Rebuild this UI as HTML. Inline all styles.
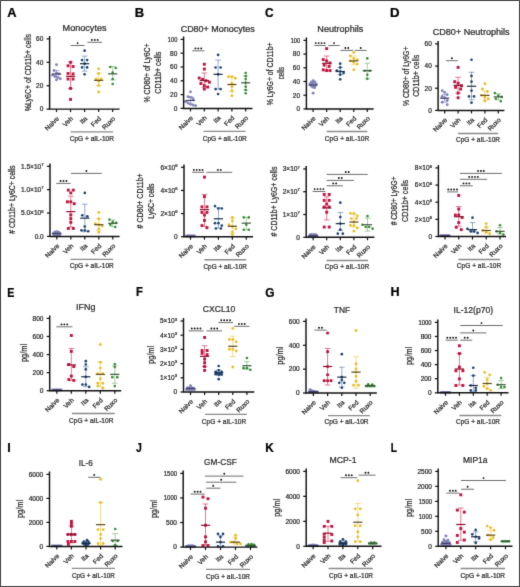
<!DOCTYPE html>
<html><head><meta charset="utf-8"><style>
html,body{margin:0;padding:0;background:#fff;}
svg{display:block;font-family:"Liberation Sans", sans-serif;will-change:transform;color:#2a2a2a;}
text{stroke:currentColor;stroke-width:0.24px;}
</style></head><body>
<svg xmlns="http://www.w3.org/2000/svg" width="520" height="587" viewBox="0 0 520 587">
<defs><filter id="bl" x="0" y="0" width="520" height="587" filterUnits="userSpaceOnUse" color-interpolation-filters="sRGB"><feConvolveMatrix order="3" kernelMatrix="0.0114 0.084 0.0114 0.084 0.618 0.084 0.0114 0.084 0.0114" edgeMode="duplicate" preserveAlpha="false"/></filter></defs>
<g filter="url(#bl)">
<path d="M56.5 70.49V77.51M53.7 70.49H59.3M53.7 77.51H59.3" stroke="#9a9ad0" stroke-width="0.75" fill="none"/>
<circle cx="56.5" cy="64.64" r="1.45" fill="#8082b6"/>
<circle cx="54" cy="70.49" r="1.45" fill="#8082b6"/>
<circle cx="56.5" cy="72.83" r="1.45" fill="#8082b6"/>
<circle cx="59" cy="74" r="1.45" fill="#8082b6"/>
<circle cx="52.75" cy="75.17" r="1.45" fill="#8082b6"/>
<circle cx="55.25" cy="76.34" r="1.45" fill="#8082b6"/>
<circle cx="57.75" cy="77.51" r="1.45" fill="#8082b6"/>
<circle cx="60.25" cy="78.68" r="1.45" fill="#8082b6"/>
<circle cx="56.5" cy="79.85" r="1.45" fill="#8082b6"/>
<path d="M51.9 74H61.1" stroke="#3c3c66" stroke-width="1.2"/>
<path d="M70.55 62.07V88.39M67.75 62.07H73.35M67.75 88.39H73.35" stroke="#d9506f" stroke-width="0.75" fill="none"/>
<rect x="69.1" y="60.85" width="2.9" height="2.9" fill="#c01540"/>
<rect x="66.6" y="64.36" width="2.9" height="2.9" fill="#c01540"/>
<rect x="71.6" y="65.06" width="2.9" height="2.9" fill="#c01540"/>
<rect x="66.6" y="71.97" width="2.9" height="2.9" fill="#c01540"/>
<rect x="71.6" y="72.43" width="2.9" height="2.9" fill="#c01540"/>
<rect x="66.6" y="77.58" width="2.9" height="2.9" fill="#c01540"/>
<rect x="71.6" y="77.58" width="2.9" height="2.9" fill="#c01540"/>
<rect x="69.1" y="86.94" width="2.9" height="2.9" fill="#c01540"/>
<rect x="69.1" y="97.94" width="2.9" height="2.9" fill="#c01540"/>
<path d="M65.95 76.34H75.15" stroke="#8c1030" stroke-width="1.2"/>
<path d="M84.6 56.1V71.08M81.8 56.1H87.4M81.8 71.08H87.4" stroke="#6f8db8" stroke-width="0.75" fill="none"/>
<circle cx="84.6" cy="50.72" r="1.35" fill="#1f446f"/>
<circle cx="82.1" cy="60.08" r="1.35" fill="#1f446f"/>
<circle cx="87.1" cy="60.08" r="1.35" fill="#1f446f"/>
<circle cx="84.6" cy="63.7" r="1.35" fill="#1f446f"/>
<circle cx="82.1" cy="67.45" r="1.35" fill="#1f446f"/>
<circle cx="87.1" cy="67.45" r="1.35" fill="#1f446f"/>
<circle cx="84.6" cy="74.23" r="1.35" fill="#1f446f"/>
<path d="M80 63.7H89.2" stroke="#1a2a44" stroke-width="1.2"/>
<path d="M98.65 73.42V85.58M95.85 73.42H101.45M95.85 85.58H101.45" stroke="#f0cf60" stroke-width="0.75" fill="none"/>
<circle cx="98.65" cy="68.85" r="1.45" fill="#ecbe2a"/>
<circle cx="98.65" cy="73.42" r="1.45" fill="#ecbe2a"/>
<circle cx="96.15" cy="79.03" r="1.45" fill="#ecbe2a"/>
<circle cx="101.15" cy="79.03" r="1.45" fill="#ecbe2a"/>
<circle cx="98.65" cy="81.25" r="1.45" fill="#ecbe2a"/>
<circle cx="98.65" cy="85.58" r="1.45" fill="#ecbe2a"/>
<circle cx="98.65" cy="92.02" r="1.45" fill="#ecbe2a"/>
<path d="M94.05 80.32H103.25" stroke="#5a4818" stroke-width="1.2"/>
<path d="M112.7 66.51V79.97M109.9 66.51H115.5M109.9 79.97H115.5" stroke="#80c080" stroke-width="0.75" fill="none"/>
<circle cx="110.2" cy="66.98" r="1.3" fill="#398a39"/>
<circle cx="115.7" cy="68.03" r="1.3" fill="#398a39"/>
<circle cx="112.7" cy="72.6" r="1.3" fill="#398a39"/>
<circle cx="112.7" cy="79.03" r="1.3" fill="#398a39"/>
<circle cx="112.7" cy="83.94" r="1.3" fill="#398a39"/>
<path d="M108.1 73.88H117.3" stroke="#3a553a" stroke-width="1.2"/>
<path d="M49.6 36V109.1H119.6" stroke="#111" stroke-width="1.45" fill="none"/>
<path d="M46.6 109.1H49.6" stroke="#111" stroke-width="1.25"/>
<text x="43.3" y="111.45" font-size="6.5" text-anchor="end" fill="#2a2a2a" color="#2a2a2a">0</text>
<path d="M46.6 85.7H49.6" stroke="#111" stroke-width="1.25"/>
<text x="43.3" y="88.05" font-size="6.5" text-anchor="end" fill="#2a2a2a" color="#2a2a2a">20</text>
<path d="M46.6 62.3H49.6" stroke="#111" stroke-width="1.25"/>
<text x="43.3" y="64.65" font-size="6.5" text-anchor="end" fill="#2a2a2a" color="#2a2a2a">40</text>
<path d="M46.6 38.9H49.6" stroke="#111" stroke-width="1.25"/>
<text x="43.3" y="41.25" font-size="6.5" text-anchor="end" fill="#2a2a2a" color="#2a2a2a">60</text>
<path d="M56.5 109.1V112.1" stroke="#111" stroke-width="1.2"/>
<path d="M70.55 109.1V112.1" stroke="#111" stroke-width="1.2"/>
<path d="M84.6 109.1V112.1" stroke="#111" stroke-width="1.2"/>
<path d="M98.65 109.1V112.1" stroke="#111" stroke-width="1.2"/>
<path d="M112.7 109.1V112.1" stroke="#111" stroke-width="1.2"/>
<text x="59.5" y="119.1" font-size="6.6" text-anchor="end" transform="rotate(-45 59.5 119.1)" fill="#2a2a2a" color="#2a2a2a">Naive</text>
<text x="73.55" y="119.1" font-size="6.6" text-anchor="end" transform="rotate(-45 73.55 119.1)" fill="#2a2a2a" color="#2a2a2a">Veh</text>
<text x="87.6" y="119.1" font-size="6.6" text-anchor="end" transform="rotate(-45 87.6 119.1)" fill="#2a2a2a" color="#2a2a2a">Ita</text>
<text x="101.65" y="119.1" font-size="6.6" text-anchor="end" transform="rotate(-45 101.65 119.1)" fill="#2a2a2a" color="#2a2a2a">Fed</text>
<text x="115.7" y="119.1" font-size="6.6" text-anchor="end" transform="rotate(-45 115.7 119.1)" fill="#2a2a2a" color="#2a2a2a">Ruxo</text>
<path d="M70.6 131.9H113.1" stroke="#8a8a8a" stroke-width="1.35"/>
<text transform="translate(69.72 140.9) scale(0.9646 1)" font-size="6.8" fill="#2a2a2a" color="#2a2a2a">CpG + aIL-10R</text>
<path d="M70.7 45.5H84.5" stroke="#666" stroke-width="0.95"/>
<circle cx="77.6" cy="43.1" r="0.95" fill="#111"/>
<path d="M87.4 42.3H102.1" stroke="#666" stroke-width="0.95"/>
<circle cx="91.85" cy="39.9" r="0.95" fill="#111"/>
<circle cx="94.75" cy="39.9" r="0.95" fill="#111"/>
<circle cx="97.65" cy="39.9" r="0.95" fill="#111"/>
<text transform="translate(62.57 30.7) scale(1.0471 1)" font-size="8.7" fill="#2a2a2a" color="#2a2a2a">Monocytes</text>
<text transform="translate(30.6 111.24) rotate(-90) scale(0.8232 1)" font-size="8.5" fill="#2a2a2a" color="#2a2a2a">%Ly6C+ of CD11b+ cells</text>
<text transform="translate(7.13 16.8) scale(1.019 1)" font-size="12.6" font-weight="bold" fill="#000" color="#000">A</text>
<path d="M190.5 96.67V104.26M187.7 96.67H193.3M187.7 104.26H193.3" stroke="#9a9ad0" stroke-width="0.75" fill="none"/>
<circle cx="190.5" cy="91.84" r="1.45" fill="#8082b6"/>
<circle cx="188" cy="96.67" r="1.45" fill="#8082b6"/>
<circle cx="190.5" cy="97.36" r="1.45" fill="#8082b6"/>
<circle cx="193" cy="98.74" r="1.45" fill="#8082b6"/>
<circle cx="185.5" cy="101.5" r="1.45" fill="#8082b6"/>
<circle cx="188" cy="102.88" r="1.45" fill="#8082b6"/>
<circle cx="190.5" cy="104.26" r="1.45" fill="#8082b6"/>
<circle cx="193" cy="104.95" r="1.45" fill="#8082b6"/>
<circle cx="195.5" cy="105.64" r="1.45" fill="#8082b6"/>
<path d="M185.9 100.47H195.1" stroke="#3c3c66" stroke-width="1.2"/>
<path d="M204.3 73V87.42M201.5 73H207.1M201.5 87.42H207.1" stroke="#d9506f" stroke-width="0.75" fill="none"/>
<rect x="202.85" y="62.79" width="2.9" height="2.9" fill="#c01540"/>
<rect x="202.85" y="67.62" width="2.9" height="2.9" fill="#c01540"/>
<rect x="197.75" y="76.59" width="2.9" height="2.9" fill="#c01540"/>
<rect x="201.15" y="77.97" width="2.9" height="2.9" fill="#c01540"/>
<rect x="204.55" y="79.35" width="2.9" height="2.9" fill="#c01540"/>
<rect x="207.95" y="80.73" width="2.9" height="2.9" fill="#c01540"/>
<rect x="199.45" y="82.11" width="2.9" height="2.9" fill="#c01540"/>
<rect x="202.85" y="84.18" width="2.9" height="2.9" fill="#c01540"/>
<rect x="206.25" y="85.56" width="2.9" height="2.9" fill="#c01540"/>
<rect x="202.85" y="87.63" width="2.9" height="2.9" fill="#c01540"/>
<path d="M199.7 80.52H208.9" stroke="#8c1030" stroke-width="1.2"/>
<path d="M218.1 60.1V89.08M215.3 60.1H220.9M215.3 89.08H220.9" stroke="#6f8db8" stroke-width="0.75" fill="none"/>
<circle cx="218.1" cy="54.93" r="1.35" fill="#1f446f"/>
<circle cx="215.6" cy="67.48" r="1.35" fill="#1f446f"/>
<circle cx="220.6" cy="67.48" r="1.35" fill="#1f446f"/>
<circle cx="218.1" cy="74.31" r="1.35" fill="#1f446f"/>
<circle cx="215.6" cy="89.08" r="1.35" fill="#1f446f"/>
<circle cx="220.6" cy="89.08" r="1.35" fill="#1f446f"/>
<circle cx="218.1" cy="93.98" r="1.35" fill="#1f446f"/>
<path d="M213.5 74.31H222.7" stroke="#1a2a44" stroke-width="1.2"/>
<path d="M231.9 76.8V91.84M229.1 76.8H234.7M229.1 91.84H234.7" stroke="#f0cf60" stroke-width="0.75" fill="none"/>
<circle cx="228.5" cy="76.8" r="1.45" fill="#ecbe2a"/>
<circle cx="231.9" cy="76.8" r="1.45" fill="#ecbe2a"/>
<circle cx="235.3" cy="78.32" r="1.45" fill="#ecbe2a"/>
<circle cx="231.9" cy="83.35" r="1.45" fill="#ecbe2a"/>
<circle cx="231.9" cy="86.67" r="1.45" fill="#ecbe2a"/>
<circle cx="231.9" cy="90.74" r="1.45" fill="#ecbe2a"/>
<circle cx="231.9" cy="95.64" r="1.45" fill="#ecbe2a"/>
<path d="M227.3 84.53H236.5" stroke="#5a4818" stroke-width="1.2"/>
<path d="M245.7 75.97V89.98M242.9 75.97H248.5M242.9 89.98H248.5" stroke="#80c080" stroke-width="0.75" fill="none"/>
<circle cx="245.7" cy="73" r="1.3" fill="#398a39"/>
<circle cx="245.7" cy="75.97" r="1.3" fill="#398a39"/>
<circle cx="245.7" cy="79.08" r="1.3" fill="#398a39"/>
<circle cx="245.7" cy="82.8" r="1.3" fill="#398a39"/>
<circle cx="245.7" cy="86.67" r="1.3" fill="#398a39"/>
<circle cx="245.7" cy="89.98" r="1.3" fill="#398a39"/>
<circle cx="245.7" cy="93.22" r="1.3" fill="#398a39"/>
<path d="M241.1 82.8H250.3" stroke="#3a553a" stroke-width="1.2"/>
<path d="M183.6 36.5V108.4H252.5" stroke="#111" stroke-width="1.45" fill="none"/>
<path d="M180.6 108.4H183.6" stroke="#111" stroke-width="1.25"/>
<text x="177.3" y="110.75" font-size="6.5" text-anchor="end" fill="#2a2a2a" color="#2a2a2a">0</text>
<path d="M180.6 94.6H183.6" stroke="#111" stroke-width="1.25"/>
<text x="177.3" y="96.95" font-size="6.5" text-anchor="end" fill="#2a2a2a" color="#2a2a2a">20</text>
<path d="M180.6 80.8H183.6" stroke="#111" stroke-width="1.25"/>
<text x="177.3" y="83.15" font-size="6.5" text-anchor="end" fill="#2a2a2a" color="#2a2a2a">40</text>
<path d="M180.6 67H183.6" stroke="#111" stroke-width="1.25"/>
<text x="177.3" y="69.35" font-size="6.5" text-anchor="end" fill="#2a2a2a" color="#2a2a2a">60</text>
<path d="M180.6 53.2H183.6" stroke="#111" stroke-width="1.25"/>
<text x="177.3" y="55.55" font-size="6.5" text-anchor="end" fill="#2a2a2a" color="#2a2a2a">80</text>
<path d="M180.6 39.4H183.6" stroke="#111" stroke-width="1.25"/>
<text x="177.3" y="41.75" font-size="6.5" text-anchor="end" textLength="9.43" lengthAdjust="spacingAndGlyphs" fill="#2a2a2a" color="#2a2a2a">100</text>
<path d="M190.5 108.4V111.4" stroke="#111" stroke-width="1.2"/>
<path d="M204.3 108.4V111.4" stroke="#111" stroke-width="1.2"/>
<path d="M218.1 108.4V111.4" stroke="#111" stroke-width="1.2"/>
<path d="M231.9 108.4V111.4" stroke="#111" stroke-width="1.2"/>
<path d="M245.7 108.4V111.4" stroke="#111" stroke-width="1.2"/>
<text x="193.5" y="118.4" font-size="6.6" text-anchor="end" transform="rotate(-45 193.5 118.4)" fill="#2a2a2a" color="#2a2a2a">Naive</text>
<text x="207.3" y="118.4" font-size="6.6" text-anchor="end" transform="rotate(-45 207.3 118.4)" fill="#2a2a2a" color="#2a2a2a">Veh</text>
<text x="221.1" y="118.4" font-size="6.6" text-anchor="end" transform="rotate(-45 221.1 118.4)" fill="#2a2a2a" color="#2a2a2a">Ita</text>
<text x="234.9" y="118.4" font-size="6.6" text-anchor="end" transform="rotate(-45 234.9 118.4)" fill="#2a2a2a" color="#2a2a2a">Fed</text>
<text x="248.7" y="118.4" font-size="6.6" text-anchor="end" transform="rotate(-45 248.7 118.4)" fill="#2a2a2a" color="#2a2a2a">Ruxo</text>
<path d="M203.5 131.3H245.6" stroke="#8a8a8a" stroke-width="1.35"/>
<text transform="translate(202.72 140.6) scale(0.9623 1)" font-size="6.8" fill="#2a2a2a" color="#2a2a2a">CpG + aIL-10R</text>
<path d="M192.2 50.8H204.4" stroke="#666" stroke-width="0.95"/>
<circle cx="195.4" cy="48.4" r="0.95" fill="#111"/>
<circle cx="198.3" cy="48.4" r="0.95" fill="#111"/>
<circle cx="201.2" cy="48.4" r="0.95" fill="#111"/>
<text transform="translate(180.65 31.5) scale(1.0341 1)" font-size="8.7" fill="#2a2a2a" color="#2a2a2a">CD80+ Monocytes</text>
<text transform="translate(149.9 102.54) rotate(-90) scale(0.8412 1)" font-size="8.2" fill="#2a2a2a" color="#2a2a2a">% CD80+ of Ly6C+</text>
<text transform="translate(160.5 93.76) rotate(-90) scale(0.8724 1)" font-size="8.2" fill="#2a2a2a" color="#2a2a2a">CD11b+ cells</text>
<text transform="translate(134.78 16.8) scale(1.036 1)" font-size="12.6" font-weight="bold" fill="#000" color="#000">B</text>
<path d="M313.1 82.87V86.98M310.3 82.87H315.9M310.3 86.98H315.9" stroke="#9a9ad0" stroke-width="0.75" fill="none"/>
<circle cx="313.1" cy="80.81" r="1.45" fill="#8082b6"/>
<circle cx="311.3" cy="82.19" r="1.45" fill="#8082b6"/>
<circle cx="314.9" cy="81.84" r="1.45" fill="#8082b6"/>
<circle cx="310.1" cy="83.9" r="1.45" fill="#8082b6"/>
<circle cx="313.1" cy="83.56" r="1.45" fill="#8082b6"/>
<circle cx="316.1" cy="83.9" r="1.45" fill="#8082b6"/>
<circle cx="311.1" cy="85.61" r="1.45" fill="#8082b6"/>
<circle cx="315.1" cy="85.95" r="1.45" fill="#8082b6"/>
<circle cx="312.6" cy="86.98" r="1.45" fill="#8082b6"/>
<circle cx="314.6" cy="87.67" r="1.45" fill="#8082b6"/>
<circle cx="313.1" cy="93.15" r="1.45" fill="#8082b6"/>
<path d="M308.5 84.99H317.7" stroke="#3c3c66" stroke-width="1.2"/>
<path d="M326.65 56.02V70.68M323.85 56.02H329.45M323.85 70.68H329.45" stroke="#d9506f" stroke-width="0.75" fill="none"/>
<rect x="325.2" y="47.17" width="2.9" height="2.9" fill="#c01540"/>
<rect x="321.8" y="58.13" width="2.9" height="2.9" fill="#c01540"/>
<rect x="325.2" y="59.5" width="2.9" height="2.9" fill="#c01540"/>
<rect x="328.6" y="61.55" width="2.9" height="2.9" fill="#c01540"/>
<rect x="322.7" y="63.61" width="2.9" height="2.9" fill="#c01540"/>
<rect x="327.7" y="64.98" width="2.9" height="2.9" fill="#c01540"/>
<rect x="321.8" y="68.41" width="2.9" height="2.9" fill="#c01540"/>
<rect x="325.2" y="69.09" width="2.9" height="2.9" fill="#c01540"/>
<rect x="328.6" y="69.09" width="2.9" height="2.9" fill="#c01540"/>
<path d="M322.05 63.28H331.25" stroke="#8c1030" stroke-width="1.2"/>
<path d="M340.2 67.39V74.72M337.4 67.39H343M337.4 74.72H343" stroke="#6f8db8" stroke-width="0.75" fill="none"/>
<circle cx="340.2" cy="63.69" r="1.35" fill="#1f446f"/>
<circle cx="340.2" cy="67.39" r="1.35" fill="#1f446f"/>
<circle cx="336.8" cy="70.54" r="1.35" fill="#1f446f"/>
<circle cx="340.2" cy="71.5" r="1.35" fill="#1f446f"/>
<circle cx="343.6" cy="73.07" r="1.35" fill="#1f446f"/>
<circle cx="340.2" cy="74.72" r="1.35" fill="#1f446f"/>
<circle cx="340.2" cy="79.31" r="1.35" fill="#1f446f"/>
<path d="M335.6 71.5H344.8" stroke="#1a2a44" stroke-width="1.2"/>
<path d="M353.75 56.02V64.65M350.95 56.02H356.55M350.95 64.65H356.55" stroke="#f0cf60" stroke-width="0.75" fill="none"/>
<circle cx="353.75" cy="52.39" r="1.45" fill="#ecbe2a"/>
<circle cx="350.35" cy="56.02" r="1.45" fill="#ecbe2a"/>
<circle cx="353.75" cy="58.42" r="1.45" fill="#ecbe2a"/>
<circle cx="357.15" cy="59.58" r="1.45" fill="#ecbe2a"/>
<circle cx="350.35" cy="60.88" r="1.45" fill="#ecbe2a"/>
<circle cx="353.75" cy="62.32" r="1.45" fill="#ecbe2a"/>
<circle cx="357.15" cy="64.1" r="1.45" fill="#ecbe2a"/>
<circle cx="353.75" cy="69.79" r="1.45" fill="#ecbe2a"/>
<path d="M349.15 60.88H358.35" stroke="#5a4818" stroke-width="1.2"/>
<path d="M367.3 63.28V78.76M364.5 63.28H370.1M364.5 78.76H370.1" stroke="#80c080" stroke-width="0.75" fill="none"/>
<circle cx="367.3" cy="58.42" r="1.3" fill="#398a39"/>
<circle cx="364.8" cy="70.68" r="1.3" fill="#398a39"/>
<circle cx="369.8" cy="70.68" r="1.3" fill="#398a39"/>
<circle cx="367.3" cy="74.72" r="1.3" fill="#398a39"/>
<circle cx="367.3" cy="78.76" r="1.3" fill="#398a39"/>
<path d="M362.7 70.68H371.9" stroke="#3a553a" stroke-width="1.2"/>
<path d="M306.4 37.5V108.9H373.6" stroke="#111" stroke-width="1.45" fill="none"/>
<path d="M303.4 108.9H306.4" stroke="#111" stroke-width="1.25"/>
<text x="300.1" y="111.25" font-size="6.5" text-anchor="end" fill="#2a2a2a" color="#2a2a2a">0</text>
<path d="M303.4 95.2H306.4" stroke="#111" stroke-width="1.25"/>
<text x="300.1" y="97.55" font-size="6.5" text-anchor="end" fill="#2a2a2a" color="#2a2a2a">20</text>
<path d="M303.4 81.5H306.4" stroke="#111" stroke-width="1.25"/>
<text x="300.1" y="83.85" font-size="6.5" text-anchor="end" fill="#2a2a2a" color="#2a2a2a">40</text>
<path d="M303.4 67.8H306.4" stroke="#111" stroke-width="1.25"/>
<text x="300.1" y="70.15" font-size="6.5" text-anchor="end" fill="#2a2a2a" color="#2a2a2a">60</text>
<path d="M303.4 54.1H306.4" stroke="#111" stroke-width="1.25"/>
<text x="300.1" y="56.45" font-size="6.5" text-anchor="end" fill="#2a2a2a" color="#2a2a2a">80</text>
<path d="M303.4 40.4H306.4" stroke="#111" stroke-width="1.25"/>
<text x="300.1" y="42.75" font-size="6.5" text-anchor="end" textLength="9.43" lengthAdjust="spacingAndGlyphs" fill="#2a2a2a" color="#2a2a2a">100</text>
<path d="M313.1 108.9V111.9" stroke="#111" stroke-width="1.2"/>
<path d="M326.65 108.9V111.9" stroke="#111" stroke-width="1.2"/>
<path d="M340.2 108.9V111.9" stroke="#111" stroke-width="1.2"/>
<path d="M353.75 108.9V111.9" stroke="#111" stroke-width="1.2"/>
<path d="M367.3 108.9V111.9" stroke="#111" stroke-width="1.2"/>
<text x="316.1" y="118.9" font-size="6.6" text-anchor="end" transform="rotate(-45 316.1 118.9)" fill="#2a2a2a" color="#2a2a2a">Naive</text>
<text x="329.65" y="118.9" font-size="6.6" text-anchor="end" transform="rotate(-45 329.65 118.9)" fill="#2a2a2a" color="#2a2a2a">Veh</text>
<text x="343.2" y="118.9" font-size="6.6" text-anchor="end" transform="rotate(-45 343.2 118.9)" fill="#2a2a2a" color="#2a2a2a">Ita</text>
<text x="356.75" y="118.9" font-size="6.6" text-anchor="end" transform="rotate(-45 356.75 118.9)" fill="#2a2a2a" color="#2a2a2a">Fed</text>
<text x="370.3" y="118.9" font-size="6.6" text-anchor="end" transform="rotate(-45 370.3 118.9)" fill="#2a2a2a" color="#2a2a2a">Ruxo</text>
<path d="M326.75 131.5H367.4" stroke="#8a8a8a" stroke-width="1.35"/>
<text transform="translate(324.87 140.9) scale(0.9668 1)" font-size="6.8" fill="#2a2a2a" color="#2a2a2a">CpG + aIL-10R</text>
<path d="M314.4 45.5H325.8" stroke="#666" stroke-width="0.95"/>
<circle cx="315.75" cy="43.1" r="0.95" fill="#111"/>
<circle cx="318.65" cy="43.1" r="0.95" fill="#111"/>
<circle cx="321.55" cy="43.1" r="0.95" fill="#111"/>
<circle cx="324.45" cy="43.1" r="0.95" fill="#111"/>
<path d="M328.3 45.5H339.7" stroke="#666" stroke-width="0.95"/>
<circle cx="334" cy="43.1" r="0.95" fill="#111"/>
<path d="M340.5 50.4H353.1" stroke="#666" stroke-width="0.95"/>
<circle cx="345.35" cy="48" r="0.95" fill="#111"/>
<circle cx="348.25" cy="48" r="0.95" fill="#111"/>
<path d="M354.8 50.4H366.7" stroke="#666" stroke-width="0.95"/>
<circle cx="360.75" cy="48" r="0.95" fill="#111"/>
<text transform="translate(317.37 32.1) scale(1.0437 1)" font-size="8.7" fill="#2a2a2a" color="#2a2a2a">Neutrophils</text>
<text transform="translate(272.6 105.34) rotate(-90) scale(0.8312 1)" font-size="8.3" fill="#2a2a2a" color="#2a2a2a">% Ly6G+ of CD11b+</text>
<text transform="translate(283.5 79.14) rotate(-90) scale(0.7260 1)" font-size="8.3" fill="#2a2a2a" color="#2a2a2a">cells</text>
<text transform="translate(265.06 16.8) scale(0.948 1)" font-size="12.6" font-weight="bold" fill="#000" color="#000">C</text>
<path d="M444.7 94.33V102.2M441.9 94.33H447.5M441.9 102.2H447.5" stroke="#9a9ad0" stroke-width="0.75" fill="none"/>
<circle cx="442.2" cy="90.67" r="1.45" fill="#8082b6"/>
<circle cx="444.7" cy="92.33" r="1.45" fill="#8082b6"/>
<circle cx="447.2" cy="94.77" r="1.45" fill="#8082b6"/>
<circle cx="442.2" cy="96.44" r="1.45" fill="#8082b6"/>
<circle cx="444.7" cy="97.99" r="1.45" fill="#8082b6"/>
<circle cx="447.2" cy="100.54" r="1.45" fill="#8082b6"/>
<circle cx="442.2" cy="102.2" r="1.45" fill="#8082b6"/>
<circle cx="447.2" cy="104.64" r="1.45" fill="#8082b6"/>
<path d="M440.1 98.21H449.3" stroke="#3c3c66" stroke-width="1.2"/>
<path d="M458.1 77.26V93.11M455.3 77.26H460.9M455.3 93.11H460.9" stroke="#d9506f" stroke-width="0.75" fill="none"/>
<rect x="456.65" y="65.95" width="2.9" height="2.9" fill="#c01540"/>
<rect x="453.25" y="80.24" width="2.9" height="2.9" fill="#c01540"/>
<rect x="456.65" y="81.8" width="2.9" height="2.9" fill="#c01540"/>
<rect x="460.05" y="84.34" width="2.9" height="2.9" fill="#c01540"/>
<rect x="454.15" y="85.9" width="2.9" height="2.9" fill="#c01540"/>
<rect x="459.15" y="87.56" width="2.9" height="2.9" fill="#c01540"/>
<rect x="456.65" y="91.66" width="2.9" height="2.9" fill="#c01540"/>
<rect x="456.65" y="96.31" width="2.9" height="2.9" fill="#c01540"/>
<path d="M453.5 85.35H462.7" stroke="#8c1030" stroke-width="1.2"/>
<path d="M471.5 72.27V99.76M468.7 72.27H474.3M468.7 99.76H474.3" stroke="#6f8db8" stroke-width="0.75" fill="none"/>
<circle cx="471.5" cy="59.75" r="1.35" fill="#1f446f"/>
<circle cx="471.5" cy="75.93" r="1.35" fill="#1f446f"/>
<circle cx="471.5" cy="81.69" r="1.35" fill="#1f446f"/>
<circle cx="471.5" cy="90.67" r="1.35" fill="#1f446f"/>
<circle cx="469" cy="96.44" r="1.35" fill="#1f446f"/>
<circle cx="474" cy="96.44" r="1.35" fill="#1f446f"/>
<circle cx="471.5" cy="102.64" r="1.35" fill="#1f446f"/>
<path d="M466.9 86.24H476.1" stroke="#1a2a44" stroke-width="1.2"/>
<path d="M484.9 91V99.87M482.1 91H487.7M482.1 99.87H487.7" stroke="#f0cf60" stroke-width="0.75" fill="none"/>
<circle cx="484.9" cy="83.8" r="1.45" fill="#ecbe2a"/>
<circle cx="482.4" cy="89.01" r="1.45" fill="#ecbe2a"/>
<circle cx="487.4" cy="91.56" r="1.45" fill="#ecbe2a"/>
<circle cx="481.5" cy="95.33" r="1.45" fill="#ecbe2a"/>
<circle cx="484.9" cy="97.21" r="1.45" fill="#ecbe2a"/>
<circle cx="488.3" cy="98.76" r="1.45" fill="#ecbe2a"/>
<circle cx="484.9" cy="100.98" r="1.45" fill="#ecbe2a"/>
<path d="M480.3 95.33H489.5" stroke="#5a4818" stroke-width="1.2"/>
<path d="M498.3 93.78V99.87M495.5 93.78H501.1M495.5 99.87H501.1" stroke="#80c080" stroke-width="0.75" fill="none"/>
<circle cx="494.9" cy="93.11" r="1.3" fill="#398a39"/>
<circle cx="498.3" cy="95.66" r="1.3" fill="#398a39"/>
<circle cx="501.7" cy="96.88" r="1.3" fill="#398a39"/>
<circle cx="495.8" cy="98.76" r="1.3" fill="#398a39"/>
<circle cx="500.8" cy="101.31" r="1.3" fill="#398a39"/>
<path d="M493.7 96.88H502.9" stroke="#3a553a" stroke-width="1.2"/>
<path d="M438.1 41V110.4H504.4" stroke="#111" stroke-width="1.45" fill="none"/>
<path d="M435.1 110.4H438.1" stroke="#111" stroke-width="1.25"/>
<text x="431.8" y="112.75" font-size="6.5" text-anchor="end" fill="#2a2a2a" color="#2a2a2a">0</text>
<path d="M435.1 88.23H438.1" stroke="#111" stroke-width="1.25"/>
<text x="431.8" y="90.58" font-size="6.5" text-anchor="end" fill="#2a2a2a" color="#2a2a2a">20</text>
<path d="M435.1 66.07H438.1" stroke="#111" stroke-width="1.25"/>
<text x="431.8" y="68.42" font-size="6.5" text-anchor="end" fill="#2a2a2a" color="#2a2a2a">40</text>
<path d="M435.1 43.9H438.1" stroke="#111" stroke-width="1.25"/>
<text x="431.8" y="46.25" font-size="6.5" text-anchor="end" fill="#2a2a2a" color="#2a2a2a">60</text>
<path d="M444.7 110.4V113.4" stroke="#111" stroke-width="1.2"/>
<path d="M458.1 110.4V113.4" stroke="#111" stroke-width="1.2"/>
<path d="M471.5 110.4V113.4" stroke="#111" stroke-width="1.2"/>
<path d="M484.9 110.4V113.4" stroke="#111" stroke-width="1.2"/>
<path d="M498.3 110.4V113.4" stroke="#111" stroke-width="1.2"/>
<text x="447.7" y="120.4" font-size="6.6" text-anchor="end" transform="rotate(-45 447.7 120.4)" fill="#2a2a2a" color="#2a2a2a">Naive</text>
<text x="461.1" y="120.4" font-size="6.6" text-anchor="end" transform="rotate(-45 461.1 120.4)" fill="#2a2a2a" color="#2a2a2a">Veh</text>
<text x="474.5" y="120.4" font-size="6.6" text-anchor="end" transform="rotate(-45 474.5 120.4)" fill="#2a2a2a" color="#2a2a2a">Ita</text>
<text x="487.9" y="120.4" font-size="6.6" text-anchor="end" transform="rotate(-45 487.9 120.4)" fill="#2a2a2a" color="#2a2a2a">Fed</text>
<text x="501.3" y="120.4" font-size="6.6" text-anchor="end" transform="rotate(-45 501.3 120.4)" fill="#2a2a2a" color="#2a2a2a">Ruxo</text>
<path d="M458.1 133.5H498.1" stroke="#8a8a8a" stroke-width="1.35"/>
<text transform="translate(455.97 141.9) scale(0.9590 1)" font-size="6.8" fill="#2a2a2a" color="#2a2a2a">CpG + aIL-10R</text>
<path d="M446 60.7H457.8" stroke="#666" stroke-width="0.95"/>
<circle cx="451.9" cy="58.3" r="0.95" fill="#111"/>
<text transform="translate(432.65 35.2) scale(1.0453 1)" font-size="8.7" fill="#2a2a2a" color="#2a2a2a">CD80+ Neutrophils</text>
<text transform="translate(408.7 105.94) rotate(-90) scale(0.8300 1)" font-size="8.3" fill="#2a2a2a" color="#2a2a2a">% CD80+ of Ly6G+</text>
<text transform="translate(419 96.86) rotate(-90) scale(0.8598 1)" font-size="8.3" fill="#2a2a2a" color="#2a2a2a">CD11b+ cells</text>
<text transform="translate(390.06 16.8) scale(1.050 1)" font-size="12.6" font-weight="bold" fill="#000" color="#000">D</text>
<circle cx="53.8" cy="234.76" r="1.45" fill="#8082b6"/>
<circle cx="55.8" cy="235" r="1.45" fill="#8082b6"/>
<circle cx="57.8" cy="234.76" r="1.45" fill="#8082b6"/>
<circle cx="59.8" cy="235" r="1.45" fill="#8082b6"/>
<circle cx="53.5" cy="233.36" r="1.45" fill="#8082b6"/>
<circle cx="55.7" cy="233.6" r="1.45" fill="#8082b6"/>
<circle cx="57.9" cy="233.36" r="1.45" fill="#8082b6"/>
<circle cx="60.1" cy="233.6" r="1.45" fill="#8082b6"/>
<circle cx="54.8" cy="231.96" r="1.45" fill="#8082b6"/>
<circle cx="56.8" cy="231.73" r="1.45" fill="#8082b6"/>
<circle cx="58.8" cy="232.19" r="1.45" fill="#8082b6"/>
<path d="M52.2 233.5H61.4" stroke="#3c3c66" stroke-width="1.2"/>
<path d="M70.8 196.21V227.05M68 196.21H73.6M68 227.05H73.6" stroke="#d9506f" stroke-width="0.75" fill="none"/>
<rect x="66.85" y="188.68" width="2.9" height="2.9" fill="#c01540"/>
<rect x="71.85" y="188.68" width="2.9" height="2.9" fill="#c01540"/>
<rect x="69.35" y="191.49" width="2.9" height="2.9" fill="#c01540"/>
<rect x="65.95" y="200.37" width="2.9" height="2.9" fill="#c01540"/>
<rect x="69.35" y="200.37" width="2.9" height="2.9" fill="#c01540"/>
<rect x="72.75" y="202.24" width="2.9" height="2.9" fill="#c01540"/>
<rect x="69.35" y="213.45" width="2.9" height="2.9" fill="#c01540"/>
<rect x="69.35" y="217.19" width="2.9" height="2.9" fill="#c01540"/>
<rect x="69.35" y="220.93" width="2.9" height="2.9" fill="#c01540"/>
<rect x="66.85" y="227.01" width="2.9" height="2.9" fill="#c01540"/>
<rect x="71.85" y="227.01" width="2.9" height="2.9" fill="#c01540"/>
<path d="M66.2 211.63H75.4" stroke="#8c1030" stroke-width="1.2"/>
<path d="M84.8 204.15V231.73M82 204.15H87.6M82 231.73H87.6" stroke="#6f8db8" stroke-width="0.75" fill="none"/>
<circle cx="84.8" cy="192.94" r="1.35" fill="#1f446f"/>
<circle cx="82.3" cy="215.37" r="1.35" fill="#1f446f"/>
<circle cx="87.3" cy="216.3" r="1.35" fill="#1f446f"/>
<circle cx="84.8" cy="226.59" r="1.35" fill="#1f446f"/>
<circle cx="81.4" cy="230.32" r="1.35" fill="#1f446f"/>
<circle cx="84.8" cy="230.32" r="1.35" fill="#1f446f"/>
<circle cx="88.2" cy="231.26" r="1.35" fill="#1f446f"/>
<path d="M80.2 218.17H89.4" stroke="#1a2a44" stroke-width="1.2"/>
<path d="M98.8 219.11V230.32M96 219.11H101.6M96 230.32H101.6" stroke="#f0cf60" stroke-width="0.75" fill="none"/>
<circle cx="98.8" cy="212.57" r="1.45" fill="#ecbe2a"/>
<circle cx="98.8" cy="218.64" r="1.45" fill="#ecbe2a"/>
<circle cx="95.4" cy="223.78" r="1.45" fill="#ecbe2a"/>
<circle cx="98.8" cy="224.72" r="1.45" fill="#ecbe2a"/>
<circle cx="102.2" cy="226.12" r="1.45" fill="#ecbe2a"/>
<circle cx="98.8" cy="228.92" r="1.45" fill="#ecbe2a"/>
<circle cx="98.8" cy="232.19" r="1.45" fill="#ecbe2a"/>
<path d="M94.2 224.72H103.4" stroke="#5a4818" stroke-width="1.2"/>
<path d="M112.8 220.04V226.59M110 220.04H115.6M110 226.59H115.6" stroke="#80c080" stroke-width="0.75" fill="none"/>
<circle cx="109.4" cy="219.58" r="1.3" fill="#398a39"/>
<circle cx="112.8" cy="221.91" r="1.3" fill="#398a39"/>
<circle cx="116.2" cy="222.85" r="1.3" fill="#398a39"/>
<circle cx="110.3" cy="224.72" r="1.3" fill="#398a39"/>
<circle cx="115.3" cy="227.05" r="1.3" fill="#398a39"/>
<path d="M108.2 223.31H117.4" stroke="#3a553a" stroke-width="1.2"/>
<path d="M50 163.4V236.4H119.6" stroke="#111" stroke-width="1.45" fill="none"/>
<path d="M47 236.4H50" stroke="#111" stroke-width="1.25"/>
<text x="43.7" y="238.75" font-size="6.5" text-anchor="end" fill="#2a2a2a" color="#2a2a2a">0.0</text>
<path d="M47 213.03H50" stroke="#111" stroke-width="1.25"/>
<text x="43.7" y="215.33" font-size="6.6" text-anchor="end" fill="#2a2a2a">5.0×10<tspan font-size="4.3" dy="-2.7">6</tspan></text>
<path d="M47 189.67H50" stroke="#111" stroke-width="1.25"/>
<text x="43.7" y="191.97" font-size="6.6" text-anchor="end" fill="#2a2a2a">1.0×10<tspan font-size="4.3" dy="-2.7">7</tspan></text>
<path d="M47 166.3H50" stroke="#111" stroke-width="1.25"/>
<text x="43.7" y="168.6" font-size="6.6" text-anchor="end" fill="#2a2a2a">1.5×10<tspan font-size="4.3" dy="-2.7">7</tspan></text>
<path d="M56.8 236.4V239.4" stroke="#111" stroke-width="1.2"/>
<path d="M70.8 236.4V239.4" stroke="#111" stroke-width="1.2"/>
<path d="M84.8 236.4V239.4" stroke="#111" stroke-width="1.2"/>
<path d="M98.8 236.4V239.4" stroke="#111" stroke-width="1.2"/>
<path d="M112.8 236.4V239.4" stroke="#111" stroke-width="1.2"/>
<text x="59.8" y="246.4" font-size="6.6" text-anchor="end" transform="rotate(-45 59.8 246.4)" fill="#2a2a2a" color="#2a2a2a">Naive</text>
<text x="73.8" y="246.4" font-size="6.6" text-anchor="end" transform="rotate(-45 73.8 246.4)" fill="#2a2a2a" color="#2a2a2a">Veh</text>
<text x="87.8" y="246.4" font-size="6.6" text-anchor="end" transform="rotate(-45 87.8 246.4)" fill="#2a2a2a" color="#2a2a2a">Ita</text>
<text x="101.8" y="246.4" font-size="6.6" text-anchor="end" transform="rotate(-45 101.8 246.4)" fill="#2a2a2a" color="#2a2a2a">Fed</text>
<text x="115.8" y="246.4" font-size="6.6" text-anchor="end" transform="rotate(-45 115.8 246.4)" fill="#2a2a2a" color="#2a2a2a">Ruxo</text>
<path d="M70.6 259.3H113.1" stroke="#8a8a8a" stroke-width="1.35"/>
<text transform="translate(69.72 268.2) scale(0.9590 1)" font-size="6.8" fill="#2a2a2a" color="#2a2a2a">CpG + aIL-10R</text>
<path d="M56.3 183.4H70.7" stroke="#666" stroke-width="0.95"/>
<circle cx="60.6" cy="181" r="0.95" fill="#111"/>
<circle cx="63.5" cy="181" r="0.95" fill="#111"/>
<circle cx="66.4" cy="181" r="0.95" fill="#111"/>
<path d="M71 173.4H101.8" stroke="#666" stroke-width="0.95"/>
<circle cx="86.4" cy="171" r="0.95" fill="#111"/>
<text transform="translate(14.6 233.83) rotate(-90) scale(0.8350 1)" font-size="8.3" fill="#2a2a2a" color="#2a2a2a"># CD11b+ Ly6C+ cells</text>
<circle cx="186.5" cy="236.01" r="1.45" fill="#8082b6"/>
<circle cx="187.83" cy="236.01" r="1.45" fill="#8082b6"/>
<circle cx="189.17" cy="236.01" r="1.45" fill="#8082b6"/>
<circle cx="190.5" cy="236.01" r="1.45" fill="#8082b6"/>
<circle cx="191.83" cy="236.01" r="1.45" fill="#8082b6"/>
<circle cx="193.17" cy="236.01" r="1.45" fill="#8082b6"/>
<circle cx="194.5" cy="236.01" r="1.45" fill="#8082b6"/>
<path d="M185.9 236.24H195.1" stroke="#3c3c66" stroke-width="1.2"/>
<path d="M204.45 194.48V226.29M201.65 194.48H207.25M201.65 226.29H207.25" stroke="#d9506f" stroke-width="0.75" fill="none"/>
<rect x="203" y="175.68" width="2.9" height="2.9" fill="#c01540"/>
<rect x="203" y="195.11" width="2.9" height="2.9" fill="#c01540"/>
<rect x="200.5" y="205.41" width="2.9" height="2.9" fill="#c01540"/>
<rect x="205.5" y="205.41" width="2.9" height="2.9" fill="#c01540"/>
<rect x="200.5" y="210.96" width="2.9" height="2.9" fill="#c01540"/>
<rect x="205.5" y="210.96" width="2.9" height="2.9" fill="#c01540"/>
<rect x="203" y="213.62" width="2.9" height="2.9" fill="#c01540"/>
<rect x="203" y="218.94" width="2.9" height="2.9" fill="#c01540"/>
<rect x="200.5" y="224.15" width="2.9" height="2.9" fill="#c01540"/>
<rect x="205.5" y="226.23" width="2.9" height="2.9" fill="#c01540"/>
<path d="M199.85 209.63H209.05" stroke="#8c1030" stroke-width="1.2"/>
<path d="M218.4 207.78V228.02M215.6 207.78H221.2M215.6 228.02H221.2" stroke="#6f8db8" stroke-width="0.75" fill="none"/>
<circle cx="215" cy="206.05" r="1.35" fill="#1f446f"/>
<circle cx="218.4" cy="208.48" r="1.35" fill="#1f446f"/>
<circle cx="221.8" cy="208.48" r="1.35" fill="#1f446f"/>
<circle cx="215" cy="223.17" r="1.35" fill="#1f446f"/>
<circle cx="218.4" cy="223.17" r="1.35" fill="#1f446f"/>
<circle cx="221.8" cy="225.6" r="1.35" fill="#1f446f"/>
<circle cx="215.9" cy="228.49" r="1.35" fill="#1f446f"/>
<circle cx="220.9" cy="228.49" r="1.35" fill="#1f446f"/>
<path d="M213.8 218.77H223" stroke="#1a2a44" stroke-width="1.2"/>
<path d="M232.35 218.19V233.23M229.55 218.19H235.15M229.55 233.23H235.15" stroke="#f0cf60" stroke-width="0.75" fill="none"/>
<circle cx="232.35" cy="217.38" r="1.45" fill="#ecbe2a"/>
<circle cx="232.35" cy="220.97" r="1.45" fill="#ecbe2a"/>
<circle cx="228.95" cy="224.79" r="1.45" fill="#ecbe2a"/>
<circle cx="232.35" cy="226.41" r="1.45" fill="#ecbe2a"/>
<circle cx="235.75" cy="228.83" r="1.45" fill="#ecbe2a"/>
<circle cx="232.35" cy="231.84" r="1.45" fill="#ecbe2a"/>
<circle cx="232.35" cy="234.62" r="1.45" fill="#ecbe2a"/>
<path d="M227.75 226.29H236.95" stroke="#5a4818" stroke-width="1.2"/>
<path d="M246.3 217.38V229.76M243.5 217.38H249.1M243.5 229.76H249.1" stroke="#80c080" stroke-width="0.75" fill="none"/>
<circle cx="243.8" cy="217.38" r="1.3" fill="#398a39"/>
<circle cx="248.8" cy="217.38" r="1.3" fill="#398a39"/>
<circle cx="246.3" cy="224.79" r="1.3" fill="#398a39"/>
<circle cx="243.8" cy="229.76" r="1.3" fill="#398a39"/>
<circle cx="248.8" cy="229.76" r="1.3" fill="#398a39"/>
<path d="M241.7 223.17H250.9" stroke="#3a553a" stroke-width="1.2"/>
<path d="M184 164.4V236.7H253.1" stroke="#111" stroke-width="1.45" fill="none"/>
<path d="M181 236.7H184" stroke="#111" stroke-width="1.25"/>
<text x="177.7" y="239.05" font-size="6.5" text-anchor="end" fill="#2a2a2a" color="#2a2a2a">0</text>
<path d="M181 213.57H184" stroke="#111" stroke-width="1.25"/>
<text x="177.7" y="215.87" font-size="6.6" text-anchor="end" fill="#2a2a2a">2×10<tspan font-size="4.3" dy="-2.7">6</tspan></text>
<path d="M181 190.43H184" stroke="#111" stroke-width="1.25"/>
<text x="177.7" y="192.73" font-size="6.6" text-anchor="end" fill="#2a2a2a">4×10<tspan font-size="4.3" dy="-2.7">6</tspan></text>
<path d="M181 167.3H184" stroke="#111" stroke-width="1.25"/>
<text x="177.7" y="169.6" font-size="6.6" text-anchor="end" fill="#2a2a2a">6×10<tspan font-size="4.3" dy="-2.7">6</tspan></text>
<path d="M190.5 236.7V239.7" stroke="#111" stroke-width="1.2"/>
<path d="M204.45 236.7V239.7" stroke="#111" stroke-width="1.2"/>
<path d="M218.4 236.7V239.7" stroke="#111" stroke-width="1.2"/>
<path d="M232.35 236.7V239.7" stroke="#111" stroke-width="1.2"/>
<path d="M246.3 236.7V239.7" stroke="#111" stroke-width="1.2"/>
<text x="193.5" y="246.7" font-size="6.6" text-anchor="end" transform="rotate(-45 193.5 246.7)" fill="#2a2a2a" color="#2a2a2a">Naive</text>
<text x="207.45" y="246.7" font-size="6.6" text-anchor="end" transform="rotate(-45 207.45 246.7)" fill="#2a2a2a" color="#2a2a2a">Veh</text>
<text x="221.4" y="246.7" font-size="6.6" text-anchor="end" transform="rotate(-45 221.4 246.7)" fill="#2a2a2a" color="#2a2a2a">Ita</text>
<text x="235.35" y="246.7" font-size="6.6" text-anchor="end" transform="rotate(-45 235.35 246.7)" fill="#2a2a2a" color="#2a2a2a">Fed</text>
<text x="249.3" y="246.7" font-size="6.6" text-anchor="end" transform="rotate(-45 249.3 246.7)" fill="#2a2a2a" color="#2a2a2a">Ruxo</text>
<path d="M204.4 259.75H246.25" stroke="#8a8a8a" stroke-width="1.35"/>
<text transform="translate(203.48 268.5) scale(0.9458 1)" font-size="6.8" fill="#2a2a2a" color="#2a2a2a">CpG + aIL-10R</text>
<path d="M192.2 172.3H204.1" stroke="#666" stroke-width="0.95"/>
<circle cx="193.8" cy="169.9" r="0.95" fill="#111"/>
<circle cx="196.7" cy="169.9" r="0.95" fill="#111"/>
<circle cx="199.6" cy="169.9" r="0.95" fill="#111"/>
<circle cx="202.5" cy="169.9" r="0.95" fill="#111"/>
<path d="M206.4 172.3H232.2" stroke="#666" stroke-width="0.95"/>
<circle cx="217.85" cy="169.9" r="0.95" fill="#111"/>
<circle cx="220.75" cy="169.9" r="0.95" fill="#111"/>
<text transform="translate(143.4 228.44) rotate(-90) scale(0.8443 1)" font-size="8.3" fill="#2a2a2a" color="#2a2a2a"># CD80+ CD11b+</text>
<text transform="translate(154 218.64) rotate(-90) scale(0.8191 1)" font-size="8.3" fill="#2a2a2a" color="#2a2a2a">Ly6C+ cells</text>
<circle cx="310.6" cy="234.34" r="1.45" fill="#8082b6"/>
<circle cx="312.6" cy="234.79" r="1.45" fill="#8082b6"/>
<circle cx="314.6" cy="234.56" r="1.45" fill="#8082b6"/>
<circle cx="316.3" cy="235.02" r="1.45" fill="#8082b6"/>
<circle cx="309.1" cy="236.16" r="1.45" fill="#8082b6"/>
<circle cx="310.7" cy="236.16" r="1.45" fill="#8082b6"/>
<circle cx="312.3" cy="236.16" r="1.45" fill="#8082b6"/>
<circle cx="313.9" cy="236.16" r="1.45" fill="#8082b6"/>
<circle cx="315.5" cy="236.16" r="1.45" fill="#8082b6"/>
<circle cx="317.1" cy="236.16" r="1.45" fill="#8082b6"/>
<path d="M308.5 235.7H317.7" stroke="#3c3c66" stroke-width="1.2"/>
<path d="M326.7 196.72V219.97M323.9 196.72H329.5M323.9 219.97H329.5" stroke="#d9506f" stroke-width="0.75" fill="none"/>
<rect x="322.75" y="192.99" width="2.9" height="2.9" fill="#c01540"/>
<rect x="327.75" y="192.99" width="2.9" height="2.9" fill="#c01540"/>
<rect x="322.75" y="198.91" width="2.9" height="2.9" fill="#c01540"/>
<rect x="327.75" y="198.91" width="2.9" height="2.9" fill="#c01540"/>
<rect x="325.25" y="202.56" width="2.9" height="2.9" fill="#c01540"/>
<rect x="322.75" y="205.53" width="2.9" height="2.9" fill="#c01540"/>
<rect x="327.75" y="205.53" width="2.9" height="2.9" fill="#c01540"/>
<rect x="325.25" y="210.77" width="2.9" height="2.9" fill="#c01540"/>
<rect x="322.75" y="225.59" width="2.9" height="2.9" fill="#c01540"/>
<rect x="327.75" y="225.59" width="2.9" height="2.9" fill="#c01540"/>
<path d="M322.1 207.89H331.3" stroke="#8c1030" stroke-width="1.2"/>
<path d="M340.3 212.45V230.46M337.5 212.45H343.1M337.5 230.46H343.1" stroke="#6f8db8" stroke-width="0.75" fill="none"/>
<circle cx="340.3" cy="202.64" r="1.35" fill="#1f446f"/>
<circle cx="340.3" cy="217.01" r="1.35" fill="#1f446f"/>
<circle cx="340.3" cy="223.62" r="1.35" fill="#1f446f"/>
<circle cx="340.3" cy="229.55" r="1.35" fill="#1f446f"/>
<circle cx="337.8" cy="233.65" r="1.35" fill="#1f446f"/>
<circle cx="342.8" cy="233.65" r="1.35" fill="#1f446f"/>
<path d="M335.7 223.62H344.9" stroke="#1a2a44" stroke-width="1.2"/>
<path d="M353.9 214.5V227.04M351.1 214.5H356.7M351.1 227.04H356.7" stroke="#f0cf60" stroke-width="0.75" fill="none"/>
<circle cx="350.5" cy="213.36" r="1.45" fill="#ecbe2a"/>
<circle cx="353.9" cy="213.36" r="1.45" fill="#ecbe2a"/>
<circle cx="357.3" cy="215.87" r="1.45" fill="#ecbe2a"/>
<circle cx="351.4" cy="218.6" r="1.45" fill="#ecbe2a"/>
<circle cx="356.4" cy="218.6" r="1.45" fill="#ecbe2a"/>
<circle cx="353.9" cy="222.02" r="1.45" fill="#ecbe2a"/>
<circle cx="350.5" cy="225.44" r="1.45" fill="#ecbe2a"/>
<circle cx="353.9" cy="225.44" r="1.45" fill="#ecbe2a"/>
<circle cx="357.3" cy="227.95" r="1.45" fill="#ecbe2a"/>
<circle cx="353.9" cy="231.14" r="1.45" fill="#ecbe2a"/>
<path d="M349.3 222.02H358.5" stroke="#5a4818" stroke-width="1.2"/>
<path d="M367.5 218.15V231.14M364.7 218.15H370.3M364.7 231.14H370.3" stroke="#80c080" stroke-width="0.75" fill="none"/>
<circle cx="367.5" cy="216.1" r="1.3" fill="#398a39"/>
<circle cx="362.4" cy="224.76" r="1.3" fill="#398a39"/>
<circle cx="365.8" cy="227.04" r="1.3" fill="#398a39"/>
<circle cx="369.2" cy="227.04" r="1.3" fill="#398a39"/>
<circle cx="372.6" cy="228.64" r="1.3" fill="#398a39"/>
<path d="M362.9 224.76H372.1" stroke="#3a553a" stroke-width="1.2"/>
<path d="M306.2 166V237.3H374.4" stroke="#111" stroke-width="1.45" fill="none"/>
<path d="M303.2 237.3H306.2" stroke="#111" stroke-width="1.25"/>
<text x="299.9" y="239.65" font-size="6.5" text-anchor="end" fill="#2a2a2a" color="#2a2a2a">0</text>
<path d="M303.2 214.5H306.2" stroke="#111" stroke-width="1.25"/>
<text x="299.9" y="216.8" font-size="6.6" text-anchor="end" fill="#2a2a2a">1×10<tspan font-size="4.3" dy="-2.7">7</tspan></text>
<path d="M303.2 191.7H306.2" stroke="#111" stroke-width="1.25"/>
<text x="299.9" y="194" font-size="6.6" text-anchor="end" fill="#2a2a2a">2×10<tspan font-size="4.3" dy="-2.7">7</tspan></text>
<path d="M303.2 168.9H306.2" stroke="#111" stroke-width="1.25"/>
<text x="299.9" y="171.2" font-size="6.6" text-anchor="end" fill="#2a2a2a">3×10<tspan font-size="4.3" dy="-2.7">7</tspan></text>
<path d="M313.1 237.3V240.3" stroke="#111" stroke-width="1.2"/>
<path d="M326.7 237.3V240.3" stroke="#111" stroke-width="1.2"/>
<path d="M340.3 237.3V240.3" stroke="#111" stroke-width="1.2"/>
<path d="M353.9 237.3V240.3" stroke="#111" stroke-width="1.2"/>
<path d="M367.5 237.3V240.3" stroke="#111" stroke-width="1.2"/>
<text x="316.1" y="247.3" font-size="6.6" text-anchor="end" transform="rotate(-45 316.1 247.3)" fill="#2a2a2a" color="#2a2a2a">Naive</text>
<text x="329.7" y="247.3" font-size="6.6" text-anchor="end" transform="rotate(-45 329.7 247.3)" fill="#2a2a2a" color="#2a2a2a">Veh</text>
<text x="343.3" y="247.3" font-size="6.6" text-anchor="end" transform="rotate(-45 343.3 247.3)" fill="#2a2a2a" color="#2a2a2a">Ita</text>
<text x="356.9" y="247.3" font-size="6.6" text-anchor="end" transform="rotate(-45 356.9 247.3)" fill="#2a2a2a" color="#2a2a2a">Fed</text>
<text x="370.5" y="247.3" font-size="6.6" text-anchor="end" transform="rotate(-45 370.5 247.3)" fill="#2a2a2a" color="#2a2a2a">Ruxo</text>
<path d="M326.5 260.5H368" stroke="#8a8a8a" stroke-width="1.35"/>
<text transform="translate(324.87 268.9) scale(0.9668 1)" font-size="6.8" fill="#2a2a2a" color="#2a2a2a">CpG + aIL-10R</text>
<path d="M312.7 191.5H325.3" stroke="#666" stroke-width="0.95"/>
<circle cx="314.65" cy="189.1" r="0.95" fill="#111"/>
<circle cx="317.55" cy="189.1" r="0.95" fill="#111"/>
<circle cx="320.45" cy="189.1" r="0.95" fill="#111"/>
<circle cx="323.35" cy="189.1" r="0.95" fill="#111"/>
<path d="M326.6 185.8H342.8" stroke="#666" stroke-width="0.95"/>
<circle cx="333.25" cy="183.4" r="0.95" fill="#111"/>
<circle cx="336.15" cy="183.4" r="0.95" fill="#111"/>
<path d="M326.6 180.4H353.9" stroke="#666" stroke-width="0.95"/>
<circle cx="338.8" cy="178" r="0.95" fill="#111"/>
<circle cx="341.7" cy="178" r="0.95" fill="#111"/>
<path d="M326.6 174.4H367.8" stroke="#666" stroke-width="0.95"/>
<circle cx="345.75" cy="172" r="0.95" fill="#111"/>
<circle cx="348.65" cy="172" r="0.95" fill="#111"/>
<text transform="translate(276.7 236.54) rotate(-90) scale(0.8474 1)" font-size="8.3" fill="#2a2a2a" color="#2a2a2a"># CD11b+ Ly6G+ cells</text>
<circle cx="440.75" cy="235.64" r="1.45" fill="#8082b6"/>
<circle cx="442.17" cy="235.64" r="1.45" fill="#8082b6"/>
<circle cx="443.58" cy="235.64" r="1.45" fill="#8082b6"/>
<circle cx="445" cy="235.64" r="1.45" fill="#8082b6"/>
<circle cx="446.42" cy="235.64" r="1.45" fill="#8082b6"/>
<circle cx="447.83" cy="235.64" r="1.45" fill="#8082b6"/>
<circle cx="449.25" cy="235.64" r="1.45" fill="#8082b6"/>
<path d="M440.4 235.64H449.6" stroke="#3c3c66" stroke-width="1.2"/>
<path d="M458.75 206.57V226.21M455.95 206.57H461.55M455.95 226.21H461.55" stroke="#d9506f" stroke-width="0.75" fill="none"/>
<rect x="457.3" y="193.98" width="2.9" height="2.9" fill="#c01540"/>
<rect x="457.3" y="207.61" width="2.9" height="2.9" fill="#c01540"/>
<rect x="453.9" y="213.61" width="2.9" height="2.9" fill="#c01540"/>
<rect x="457.3" y="213.61" width="2.9" height="2.9" fill="#c01540"/>
<rect x="460.7" y="216.01" width="2.9" height="2.9" fill="#c01540"/>
<rect x="457.3" y="221.16" width="2.9" height="2.9" fill="#c01540"/>
<rect x="454.8" y="225.79" width="2.9" height="2.9" fill="#c01540"/>
<rect x="459.8" y="228.19" width="2.9" height="2.9" fill="#c01540"/>
<path d="M454.15 216.69H463.35" stroke="#8c1030" stroke-width="1.2"/>
<path d="M472.5 222.61V232.21M469.7 222.61H475.3M469.7 232.21H475.3" stroke="#6f8db8" stroke-width="0.75" fill="none"/>
<circle cx="472.5" cy="217.72" r="1.35" fill="#1f446f"/>
<circle cx="467.4" cy="228.87" r="1.35" fill="#1f446f"/>
<circle cx="470.8" cy="231.35" r="1.35" fill="#1f446f"/>
<circle cx="474.2" cy="231.35" r="1.35" fill="#1f446f"/>
<circle cx="477.6" cy="232.9" r="1.35" fill="#1f446f"/>
<path d="M467.9 229.64H477.1" stroke="#1a2a44" stroke-width="1.2"/>
<path d="M486.25 227.07V233.07M483.45 227.07H489.05M483.45 233.07H489.05" stroke="#f0cf60" stroke-width="0.75" fill="none"/>
<circle cx="486.25" cy="223.64" r="1.45" fill="#ecbe2a"/>
<circle cx="486.25" cy="227.24" r="1.45" fill="#ecbe2a"/>
<circle cx="482.85" cy="230.5" r="1.45" fill="#ecbe2a"/>
<circle cx="486.25" cy="232.13" r="1.45" fill="#ecbe2a"/>
<circle cx="489.65" cy="233.76" r="1.45" fill="#ecbe2a"/>
<path d="M481.65 230.5H490.85" stroke="#5a4818" stroke-width="1.2"/>
<path d="M500 227.5V233.93M497.2 227.5H502.8M497.2 233.93H502.8" stroke="#80c080" stroke-width="0.75" fill="none"/>
<circle cx="500" cy="225.27" r="1.3" fill="#398a39"/>
<circle cx="496.6" cy="231.35" r="1.3" fill="#398a39"/>
<circle cx="500" cy="232.9" r="1.3" fill="#398a39"/>
<circle cx="503.4" cy="234.61" r="1.3" fill="#398a39"/>
<path d="M495.4 231.35H504.6" stroke="#3a553a" stroke-width="1.2"/>
<path d="M438.4 165V236.5H506" stroke="#111" stroke-width="1.45" fill="none"/>
<path d="M435.4 236.5H438.4" stroke="#111" stroke-width="1.25"/>
<text x="432.1" y="238.85" font-size="6.5" text-anchor="end" fill="#2a2a2a" color="#2a2a2a">0</text>
<path d="M435.4 219.35H438.4" stroke="#111" stroke-width="1.25"/>
<text x="432.1" y="221.65" font-size="6.6" text-anchor="end" fill="#2a2a2a">2×10<tspan font-size="4.3" dy="-2.7">6</tspan></text>
<path d="M435.4 202.2H438.4" stroke="#111" stroke-width="1.25"/>
<text x="432.1" y="204.5" font-size="6.6" text-anchor="end" fill="#2a2a2a">4×10<tspan font-size="4.3" dy="-2.7">6</tspan></text>
<path d="M435.4 185.05H438.4" stroke="#111" stroke-width="1.25"/>
<text x="432.1" y="187.35" font-size="6.6" text-anchor="end" fill="#2a2a2a">6×10<tspan font-size="4.3" dy="-2.7">6</tspan></text>
<path d="M435.4 167.9H438.4" stroke="#111" stroke-width="1.25"/>
<text x="432.1" y="170.2" font-size="6.6" text-anchor="end" fill="#2a2a2a">8×10<tspan font-size="4.3" dy="-2.7">6</tspan></text>
<path d="M445 236.5V239.5" stroke="#111" stroke-width="1.2"/>
<path d="M458.75 236.5V239.5" stroke="#111" stroke-width="1.2"/>
<path d="M472.5 236.5V239.5" stroke="#111" stroke-width="1.2"/>
<path d="M486.25 236.5V239.5" stroke="#111" stroke-width="1.2"/>
<path d="M500 236.5V239.5" stroke="#111" stroke-width="1.2"/>
<text x="448" y="246.5" font-size="6.6" text-anchor="end" transform="rotate(-45 448 246.5)" fill="#2a2a2a" color="#2a2a2a">Naive</text>
<text x="461.75" y="246.5" font-size="6.6" text-anchor="end" transform="rotate(-45 461.75 246.5)" fill="#2a2a2a" color="#2a2a2a">Veh</text>
<text x="475.5" y="246.5" font-size="6.6" text-anchor="end" transform="rotate(-45 475.5 246.5)" fill="#2a2a2a" color="#2a2a2a">Ita</text>
<text x="489.25" y="246.5" font-size="6.6" text-anchor="end" transform="rotate(-45 489.25 246.5)" fill="#2a2a2a" color="#2a2a2a">Fed</text>
<text x="503" y="246.5" font-size="6.6" text-anchor="end" transform="rotate(-45 503 246.5)" fill="#2a2a2a" color="#2a2a2a">Ruxo</text>
<path d="M458.5 259.5H500" stroke="#8a8a8a" stroke-width="1.35"/>
<text transform="translate(456.87 268.2) scale(0.9668 1)" font-size="6.8" fill="#2a2a2a" color="#2a2a2a">CpG + aIL-10R</text>
<path d="M447.2 191.9H458.1" stroke="#666" stroke-width="0.95"/>
<circle cx="448.3" cy="189.5" r="0.95" fill="#111"/>
<circle cx="451.2" cy="189.5" r="0.95" fill="#111"/>
<circle cx="454.1" cy="189.5" r="0.95" fill="#111"/>
<circle cx="457" cy="189.5" r="0.95" fill="#111"/>
<path d="M459.9 185.8H472.8" stroke="#666" stroke-width="0.95"/>
<circle cx="463.45" cy="183.4" r="0.95" fill="#111"/>
<circle cx="466.35" cy="183.4" r="0.95" fill="#111"/>
<circle cx="469.25" cy="183.4" r="0.95" fill="#111"/>
<path d="M459.9 179.3H487.2" stroke="#666" stroke-width="0.95"/>
<circle cx="469.2" cy="176.9" r="0.95" fill="#111"/>
<circle cx="472.1" cy="176.9" r="0.95" fill="#111"/>
<circle cx="475" cy="176.9" r="0.95" fill="#111"/>
<circle cx="477.9" cy="176.9" r="0.95" fill="#111"/>
<path d="M459.9 173.4H501.9" stroke="#666" stroke-width="0.95"/>
<circle cx="478" cy="171" r="0.95" fill="#111"/>
<circle cx="480.9" cy="171" r="0.95" fill="#111"/>
<circle cx="483.8" cy="171" r="0.95" fill="#111"/>
<text transform="translate(397.4 225.33) rotate(-90) scale(0.8207 1)" font-size="8.3" fill="#2a2a2a" color="#2a2a2a"># CD80+ Ly6G+</text>
<text transform="translate(408.4 221.96) rotate(-90) scale(0.8598 1)" font-size="8.3" fill="#2a2a2a" color="#2a2a2a">CD11b+ cells</text>
<circle cx="52.55" cy="389.98" r="1.45" fill="#8082b6"/>
<circle cx="53.97" cy="389.98" r="1.45" fill="#8082b6"/>
<circle cx="55.38" cy="389.98" r="1.45" fill="#8082b6"/>
<circle cx="56.8" cy="389.98" r="1.45" fill="#8082b6"/>
<circle cx="58.22" cy="389.98" r="1.45" fill="#8082b6"/>
<circle cx="59.63" cy="389.98" r="1.45" fill="#8082b6"/>
<circle cx="61.05" cy="389.98" r="1.45" fill="#8082b6"/>
<path d="M52.2 389.98H61.4" stroke="#3c3c66" stroke-width="1.2"/>
<path d="M71.3 348.59V380.4M68.5 348.59H74.1M68.5 380.4H74.1" stroke="#d9506f" stroke-width="0.75" fill="none"/>
<rect x="69.85" y="334.03" width="2.9" height="2.9" fill="#c01540"/>
<rect x="69.85" y="349.94" width="2.9" height="2.9" fill="#c01540"/>
<rect x="67.35" y="363.04" width="2.9" height="2.9" fill="#c01540"/>
<rect x="72.35" y="365.12" width="2.9" height="2.9" fill="#c01540"/>
<rect x="69.85" y="374.61" width="2.9" height="2.9" fill="#c01540"/>
<rect x="67.35" y="378.13" width="2.9" height="2.9" fill="#c01540"/>
<rect x="72.35" y="378.95" width="2.9" height="2.9" fill="#c01540"/>
<path d="M66.7 364.94H75.9" stroke="#8c1030" stroke-width="1.2"/>
<path d="M85.8 366.75V386.63M83 366.75H88.6M83 386.63H88.6" stroke="#6f8db8" stroke-width="0.75" fill="none"/>
<circle cx="85.8" cy="361.15" r="1.35" fill="#1f446f"/>
<circle cx="85.8" cy="364.49" r="1.35" fill="#1f446f"/>
<circle cx="85.8" cy="369.37" r="1.35" fill="#1f446f"/>
<circle cx="85.8" cy="376.78" r="1.35" fill="#1f446f"/>
<circle cx="82.4" cy="384.55" r="1.35" fill="#1f446f"/>
<circle cx="85.8" cy="384.55" r="1.35" fill="#1f446f"/>
<circle cx="89.2" cy="386.9" r="1.35" fill="#1f446f"/>
<path d="M81.2 376.78H90.4" stroke="#1a2a44" stroke-width="1.2"/>
<path d="M100.3 362.14V386.63M97.5 362.14H103.1M97.5 386.63H103.1" stroke="#f0cf60" stroke-width="0.75" fill="none"/>
<circle cx="100.3" cy="344.43" r="1.45" fill="#ecbe2a"/>
<circle cx="100.3" cy="362.14" r="1.45" fill="#ecbe2a"/>
<circle cx="100.3" cy="368.11" r="1.45" fill="#ecbe2a"/>
<circle cx="97.8" cy="373.8" r="1.45" fill="#ecbe2a"/>
<circle cx="102.8" cy="373.8" r="1.45" fill="#ecbe2a"/>
<circle cx="100.3" cy="378.77" r="1.45" fill="#ecbe2a"/>
<circle cx="97.8" cy="383.29" r="1.45" fill="#ecbe2a"/>
<circle cx="102.8" cy="383.29" r="1.45" fill="#ecbe2a"/>
<circle cx="97.8" cy="386.09" r="1.45" fill="#ecbe2a"/>
<circle cx="102.8" cy="388.17" r="1.45" fill="#ecbe2a"/>
<path d="M95.7 374.34H104.9" stroke="#5a4818" stroke-width="1.2"/>
<path d="M114.8 365.76V383.29M112 365.76H117.6M112 383.29H117.6" stroke="#80c080" stroke-width="0.75" fill="none"/>
<circle cx="114.8" cy="364.04" r="1.3" fill="#398a39"/>
<circle cx="114.8" cy="367.02" r="1.3" fill="#398a39"/>
<circle cx="112.3" cy="377.14" r="1.3" fill="#398a39"/>
<circle cx="117.3" cy="377.14" r="1.3" fill="#398a39"/>
<circle cx="114.8" cy="386.09" r="1.3" fill="#398a39"/>
<path d="M110.2 374.34H119.4" stroke="#3a553a" stroke-width="1.2"/>
<path d="M49.7 315.5V390.7H121.2" stroke="#111" stroke-width="1.45" fill="none"/>
<path d="M46.7 390.7H49.7" stroke="#111" stroke-width="1.25"/>
<text x="43.4" y="393.05" font-size="6.5" text-anchor="end" fill="#2a2a2a" color="#2a2a2a">0</text>
<path d="M46.7 372.62H49.7" stroke="#111" stroke-width="1.25"/>
<text x="43.4" y="374.98" font-size="6.5" text-anchor="end" fill="#2a2a2a" color="#2a2a2a">200</text>
<path d="M46.7 354.55H49.7" stroke="#111" stroke-width="1.25"/>
<text x="43.4" y="356.9" font-size="6.5" text-anchor="end" fill="#2a2a2a" color="#2a2a2a">400</text>
<path d="M46.7 336.47H49.7" stroke="#111" stroke-width="1.25"/>
<text x="43.4" y="338.82" font-size="6.5" text-anchor="end" fill="#2a2a2a" color="#2a2a2a">600</text>
<path d="M46.7 318.4H49.7" stroke="#111" stroke-width="1.25"/>
<text x="43.4" y="320.75" font-size="6.5" text-anchor="end" fill="#2a2a2a" color="#2a2a2a">800</text>
<path d="M56.8 390.7V393.7" stroke="#111" stroke-width="1.2"/>
<path d="M71.3 390.7V393.7" stroke="#111" stroke-width="1.2"/>
<path d="M85.8 390.7V393.7" stroke="#111" stroke-width="1.2"/>
<path d="M100.3 390.7V393.7" stroke="#111" stroke-width="1.2"/>
<path d="M114.8 390.7V393.7" stroke="#111" stroke-width="1.2"/>
<text x="59.8" y="400.7" font-size="6.6" text-anchor="end" transform="rotate(-45 59.8 400.7)" fill="#2a2a2a" color="#2a2a2a">Naive</text>
<text x="74.3" y="400.7" font-size="6.6" text-anchor="end" transform="rotate(-45 74.3 400.7)" fill="#2a2a2a" color="#2a2a2a">Veh</text>
<text x="88.8" y="400.7" font-size="6.6" text-anchor="end" transform="rotate(-45 88.8 400.7)" fill="#2a2a2a" color="#2a2a2a">Ita</text>
<text x="103.3" y="400.7" font-size="6.6" text-anchor="end" transform="rotate(-45 103.3 400.7)" fill="#2a2a2a" color="#2a2a2a">Fed</text>
<text x="117.8" y="400.7" font-size="6.6" text-anchor="end" transform="rotate(-45 117.8 400.7)" fill="#2a2a2a" color="#2a2a2a">Ruxo</text>
<path d="M71.9 413.5H114.75" stroke="#8a8a8a" stroke-width="1.35"/>
<text transform="translate(68.97 422.5) scale(0.9701 1)" font-size="6.8" fill="#2a2a2a" color="#2a2a2a">CpG + aIL-10R</text>
<path d="M56.3 326.8H72.4" stroke="#666" stroke-width="0.95"/>
<circle cx="61.45" cy="324.4" r="0.95" fill="#111"/>
<circle cx="64.35" cy="324.4" r="0.95" fill="#111"/>
<circle cx="67.25" cy="324.4" r="0.95" fill="#111"/>
<text transform="translate(76.1 309.6) scale(1.0236 1)" font-size="8.7" fill="#2a2a2a" color="#2a2a2a">IFNg</text>
<text transform="translate(26.9 361.98) rotate(-90) scale(0.8589 1)" font-size="8.6" fill="#2a2a2a" color="#2a2a2a">pg/ml</text>
<text transform="translate(7.23 296.5) scale(0.850 1)" font-size="12.6" font-weight="bold" fill="#000" color="#000">E</text>
<circle cx="190.5" cy="385.75" r="1.45" fill="#8082b6"/>
<circle cx="187.5" cy="387.74" r="1.45" fill="#8082b6"/>
<circle cx="189.5" cy="388.02" r="1.45" fill="#8082b6"/>
<circle cx="191.5" cy="387.74" r="1.45" fill="#8082b6"/>
<circle cx="193.5" cy="388.17" r="1.45" fill="#8082b6"/>
<circle cx="186.5" cy="389.44" r="1.45" fill="#8082b6"/>
<circle cx="188.1" cy="389.44" r="1.45" fill="#8082b6"/>
<circle cx="189.7" cy="389.44" r="1.45" fill="#8082b6"/>
<circle cx="191.3" cy="389.44" r="1.45" fill="#8082b6"/>
<circle cx="192.9" cy="389.44" r="1.45" fill="#8082b6"/>
<circle cx="194.5" cy="389.44" r="1.45" fill="#8082b6"/>
<path d="M185.9 388.45H195.1" stroke="#3c3c66" stroke-width="1.2"/>
<path d="M204.6 345.71V366.44M201.8 345.71H207.4M201.8 366.44H207.4" stroke="#d9506f" stroke-width="0.75" fill="none"/>
<rect x="203.15" y="336.02" width="2.9" height="2.9" fill="#c01540"/>
<rect x="200.65" y="349.09" width="2.9" height="2.9" fill="#c01540"/>
<rect x="205.65" y="349.09" width="2.9" height="2.9" fill="#c01540"/>
<rect x="200.65" y="351.93" width="2.9" height="2.9" fill="#c01540"/>
<rect x="205.65" y="353.2" width="2.9" height="2.9" fill="#c01540"/>
<rect x="203.15" y="357.61" width="2.9" height="2.9" fill="#c01540"/>
<rect x="203.15" y="361.3" width="2.9" height="2.9" fill="#c01540"/>
<rect x="203.15" y="365.13" width="2.9" height="2.9" fill="#c01540"/>
<rect x="203.15" y="368.97" width="2.9" height="2.9" fill="#c01540"/>
<path d="M200 356.36H209.2" stroke="#8c1030" stroke-width="1.2"/>
<path d="M218.7 369.99V374.96M215.9 369.99H221.5M215.9 374.96H221.5" stroke="#6f8db8" stroke-width="0.75" fill="none"/>
<circle cx="218.7" cy="366.01" r="1.35" fill="#1f446f"/>
<circle cx="218.7" cy="370.42" r="1.35" fill="#1f446f"/>
<circle cx="215.7" cy="371.84" r="1.35" fill="#1f446f"/>
<circle cx="221.7" cy="371.84" r="1.35" fill="#1f446f"/>
<circle cx="217.2" cy="373.26" r="1.35" fill="#1f446f"/>
<circle cx="220.2" cy="373.54" r="1.35" fill="#1f446f"/>
<circle cx="218.7" cy="374.96" r="1.35" fill="#1f446f"/>
<circle cx="215.7" cy="374.25" r="1.35" fill="#1f446f"/>
<circle cx="221.7" cy="374.68" r="1.35" fill="#1f446f"/>
<circle cx="218.7" cy="379.22" r="1.35" fill="#1f446f"/>
<path d="M214.1 372.83H223.3" stroke="#1a2a44" stroke-width="1.2"/>
<path d="M232.8 336.19V356.5M230 336.19H235.6M230 356.5H235.6" stroke="#f0cf60" stroke-width="0.75" fill="none"/>
<circle cx="232.8" cy="328.38" r="1.45" fill="#ecbe2a"/>
<circle cx="229.4" cy="339.46" r="1.45" fill="#ecbe2a"/>
<circle cx="232.8" cy="339.46" r="1.45" fill="#ecbe2a"/>
<circle cx="236.2" cy="341.87" r="1.45" fill="#ecbe2a"/>
<circle cx="229.4" cy="349.26" r="1.45" fill="#ecbe2a"/>
<circle cx="232.8" cy="349.26" r="1.45" fill="#ecbe2a"/>
<circle cx="236.2" cy="350.96" r="1.45" fill="#ecbe2a"/>
<circle cx="232.8" cy="367.01" r="1.45" fill="#ecbe2a"/>
<path d="M228.2 346.28H237.4" stroke="#5a4818" stroke-width="1.2"/>
<path d="M246.9 361.61V369.28M244.1 361.61H249.7M244.1 369.28H249.7" stroke="#80c080" stroke-width="0.75" fill="none"/>
<circle cx="246.9" cy="358.06" r="1.3" fill="#398a39"/>
<circle cx="243.5" cy="368.14" r="1.3" fill="#398a39"/>
<circle cx="246.9" cy="368.14" r="1.3" fill="#398a39"/>
<circle cx="250.3" cy="369.85" r="1.3" fill="#398a39"/>
<path d="M242.3 365.73H251.5" stroke="#3a553a" stroke-width="1.2"/>
<path d="M183.5 318.1V392H254.3" stroke="#111" stroke-width="1.45" fill="none"/>
<path d="M180.5 392H183.5" stroke="#111" stroke-width="1.25"/>
<text x="177.2" y="394.35" font-size="6.5" text-anchor="end" fill="#2a2a2a" color="#2a2a2a">0</text>
<path d="M180.5 377.8H183.5" stroke="#111" stroke-width="1.25"/>
<text x="177.2" y="380.1" font-size="6.6" text-anchor="end" fill="#2a2a2a">1×10<tspan font-size="4.3" dy="-2.7">3</tspan></text>
<path d="M180.5 363.6H183.5" stroke="#111" stroke-width="1.25"/>
<text x="177.2" y="365.9" font-size="6.6" text-anchor="end" fill="#2a2a2a">2×10<tspan font-size="4.3" dy="-2.7">3</tspan></text>
<path d="M180.5 349.4H183.5" stroke="#111" stroke-width="1.25"/>
<text x="177.2" y="351.7" font-size="6.6" text-anchor="end" fill="#2a2a2a">3×10<tspan font-size="4.3" dy="-2.7">3</tspan></text>
<path d="M180.5 335.2H183.5" stroke="#111" stroke-width="1.25"/>
<text x="177.2" y="337.5" font-size="6.6" text-anchor="end" fill="#2a2a2a">4×10<tspan font-size="4.3" dy="-2.7">3</tspan></text>
<path d="M180.5 321H183.5" stroke="#111" stroke-width="1.25"/>
<text x="177.2" y="323.3" font-size="6.6" text-anchor="end" fill="#2a2a2a">5×10<tspan font-size="4.3" dy="-2.7">3</tspan></text>
<path d="M190.5 392V395" stroke="#111" stroke-width="1.2"/>
<path d="M204.6 392V395" stroke="#111" stroke-width="1.2"/>
<path d="M218.7 392V395" stroke="#111" stroke-width="1.2"/>
<path d="M232.8 392V395" stroke="#111" stroke-width="1.2"/>
<path d="M246.9 392V395" stroke="#111" stroke-width="1.2"/>
<text x="193.5" y="402" font-size="6.6" text-anchor="end" transform="rotate(-45 193.5 402)" fill="#2a2a2a" color="#2a2a2a">Naive</text>
<text x="207.6" y="402" font-size="6.6" text-anchor="end" transform="rotate(-45 207.6 402)" fill="#2a2a2a" color="#2a2a2a">Veh</text>
<text x="221.7" y="402" font-size="6.6" text-anchor="end" transform="rotate(-45 221.7 402)" fill="#2a2a2a" color="#2a2a2a">Ita</text>
<text x="235.8" y="402" font-size="6.6" text-anchor="end" transform="rotate(-45 235.8 402)" fill="#2a2a2a" color="#2a2a2a">Fed</text>
<text x="249.9" y="402" font-size="6.6" text-anchor="end" transform="rotate(-45 249.9 402)" fill="#2a2a2a" color="#2a2a2a">Ruxo</text>
<path d="M205 414.4H246.9" stroke="#8a8a8a" stroke-width="1.35"/>
<text transform="translate(201.87 423.5) scale(0.9668 1)" font-size="6.8" fill="#2a2a2a" color="#2a2a2a">CpG + aIL-10R</text>
<path d="M188.6 330.9H203.6" stroke="#666" stroke-width="0.95"/>
<circle cx="191.75" cy="328.5" r="0.95" fill="#111"/>
<circle cx="194.65" cy="328.5" r="0.95" fill="#111"/>
<circle cx="197.55" cy="328.5" r="0.95" fill="#111"/>
<circle cx="200.45" cy="328.5" r="0.95" fill="#111"/>
<path d="M206.5 330.9H222.1" stroke="#666" stroke-width="0.95"/>
<circle cx="211.4" cy="328.5" r="0.95" fill="#111"/>
<circle cx="214.3" cy="328.5" r="0.95" fill="#111"/>
<circle cx="217.2" cy="328.5" r="0.95" fill="#111"/>
<path d="M218.3 322.6H233" stroke="#666" stroke-width="0.95"/>
<circle cx="221.3" cy="320.2" r="0.95" fill="#111"/>
<circle cx="224.2" cy="320.2" r="0.95" fill="#111"/>
<circle cx="227.1" cy="320.2" r="0.95" fill="#111"/>
<circle cx="230" cy="320.2" r="0.95" fill="#111"/>
<path d="M234.2 326.3H249.4" stroke="#666" stroke-width="0.95"/>
<circle cx="238.9" cy="323.9" r="0.95" fill="#111"/>
<circle cx="241.8" cy="323.9" r="0.95" fill="#111"/>
<circle cx="244.7" cy="323.9" r="0.95" fill="#111"/>
<text transform="translate(202.87 312.1) scale(0.9830 1)" font-size="8.7" fill="#2a2a2a" color="#2a2a2a">CXCL10</text>
<text transform="translate(153.6 363.88) rotate(-90) scale(0.8589 1)" font-size="8.6" fill="#2a2a2a" color="#2a2a2a">pg/ml</text>
<text transform="translate(135.9 296.4) scale(0.894 1)" font-size="12.6" font-weight="bold" fill="#000" color="#000">F</text>
<circle cx="309.9" cy="389.66" r="1.45" fill="#8082b6"/>
<circle cx="311.4" cy="390.37" r="1.45" fill="#8082b6"/>
<circle cx="312.9" cy="391.09" r="1.45" fill="#8082b6"/>
<circle cx="314.4" cy="391.57" r="1.45" fill="#8082b6"/>
<circle cx="309.15" cy="392.05" r="1.45" fill="#8082b6"/>
<circle cx="310.85" cy="392.05" r="1.45" fill="#8082b6"/>
<circle cx="312.55" cy="392.05" r="1.45" fill="#8082b6"/>
<circle cx="314.25" cy="392.05" r="1.45" fill="#8082b6"/>
<circle cx="315.95" cy="392.05" r="1.45" fill="#8082b6"/>
<circle cx="317.65" cy="392.05" r="1.45" fill="#8082b6"/>
<path d="M308.8 391.57H318" stroke="#3c3c66" stroke-width="1.2"/>
<path d="M327.6 348.49V385M324.8 348.49H330.4M324.8 385H330.4" stroke="#d9506f" stroke-width="0.75" fill="none"/>
<circle cx="327.6" cy="332.98" r="1.6" fill="#c01540"/>
<circle cx="327.6" cy="351.71" r="1.6" fill="#c01540"/>
<circle cx="327.6" cy="366.51" r="1.6" fill="#c01540"/>
<circle cx="327.6" cy="374.74" r="1.6" fill="#c01540"/>
<circle cx="324.2" cy="380.71" r="1.6" fill="#c01540"/>
<circle cx="327.6" cy="380.71" r="1.6" fill="#c01540"/>
<circle cx="331" cy="380.71" r="1.6" fill="#c01540"/>
<path d="M323 366.51H332.2" stroke="#8c1030" stroke-width="1.2"/>
<path d="M341.8 367.22V387.03M339 367.22H344.6M339 387.03H344.6" stroke="#6f8db8" stroke-width="0.75" fill="none"/>
<circle cx="341.8" cy="354.22" r="1.35" fill="#1f446f"/>
<circle cx="341.8" cy="377.13" r="1.35" fill="#1f446f"/>
<circle cx="341.8" cy="380.11" r="1.35" fill="#1f446f"/>
<circle cx="339.3" cy="382.86" r="1.35" fill="#1f446f"/>
<circle cx="344.3" cy="382.86" r="1.35" fill="#1f446f"/>
<circle cx="341.8" cy="387.75" r="1.35" fill="#1f446f"/>
<path d="M337.2 377.13H346.4" stroke="#1a2a44" stroke-width="1.2"/>
<path d="M356 356.72V388.23M353.2 356.72H358.8M353.2 388.23H358.8" stroke="#f0cf60" stroke-width="0.75" fill="none"/>
<circle cx="356" cy="330.47" r="1.45" fill="#ecbe2a"/>
<circle cx="356" cy="364" r="1.45" fill="#ecbe2a"/>
<circle cx="356" cy="368.89" r="1.45" fill="#ecbe2a"/>
<circle cx="356" cy="372.12" r="1.45" fill="#ecbe2a"/>
<circle cx="356" cy="376.29" r="1.45" fill="#ecbe2a"/>
<circle cx="356" cy="381.19" r="1.45" fill="#ecbe2a"/>
<circle cx="353.5" cy="385.24" r="1.45" fill="#ecbe2a"/>
<circle cx="358.5" cy="385.24" r="1.45" fill="#ecbe2a"/>
<path d="M351.4 372.12H360.6" stroke="#5a4818" stroke-width="1.2"/>
<circle cx="368.2" cy="384.41" r="1.3" fill="#398a39"/>
<circle cx="372.2" cy="384.65" r="1.3" fill="#398a39"/>
<circle cx="365.95" cy="386.08" r="1.3" fill="#398a39"/>
<circle cx="367.65" cy="386.08" r="1.3" fill="#398a39"/>
<circle cx="369.35" cy="386.08" r="1.3" fill="#398a39"/>
<circle cx="371.05" cy="386.08" r="1.3" fill="#398a39"/>
<circle cx="372.75" cy="386.08" r="1.3" fill="#398a39"/>
<circle cx="374.45" cy="386.08" r="1.3" fill="#398a39"/>
<path d="M365.6 385.6H374.8" stroke="#3a553a" stroke-width="1.2"/>
<path d="M306 318.5V393H376.8" stroke="#111" stroke-width="1.45" fill="none"/>
<path d="M303 393H306" stroke="#111" stroke-width="1.25"/>
<text x="299.7" y="395.35" font-size="6.5" text-anchor="end" fill="#2a2a2a" color="#2a2a2a">0</text>
<path d="M303 369.13H306" stroke="#111" stroke-width="1.25"/>
<text x="299.7" y="371.48" font-size="6.5" text-anchor="end" fill="#2a2a2a" color="#2a2a2a">200</text>
<path d="M303 345.27H306" stroke="#111" stroke-width="1.25"/>
<text x="299.7" y="347.62" font-size="6.5" text-anchor="end" fill="#2a2a2a" color="#2a2a2a">400</text>
<path d="M303 321.4H306" stroke="#111" stroke-width="1.25"/>
<text x="299.7" y="323.75" font-size="6.5" text-anchor="end" fill="#2a2a2a" color="#2a2a2a">600</text>
<path d="M313.4 393V396" stroke="#111" stroke-width="1.2"/>
<path d="M327.6 393V396" stroke="#111" stroke-width="1.2"/>
<path d="M341.8 393V396" stroke="#111" stroke-width="1.2"/>
<path d="M356 393V396" stroke="#111" stroke-width="1.2"/>
<path d="M370.2 393V396" stroke="#111" stroke-width="1.2"/>
<text x="316.4" y="403" font-size="6.6" text-anchor="end" transform="rotate(-45 316.4 403)" fill="#2a2a2a" color="#2a2a2a">Naive</text>
<text x="330.6" y="403" font-size="6.6" text-anchor="end" transform="rotate(-45 330.6 403)" fill="#2a2a2a" color="#2a2a2a">Veh</text>
<text x="344.8" y="403" font-size="6.6" text-anchor="end" transform="rotate(-45 344.8 403)" fill="#2a2a2a" color="#2a2a2a">Ita</text>
<text x="359" y="403" font-size="6.6" text-anchor="end" transform="rotate(-45 359 403)" fill="#2a2a2a" color="#2a2a2a">Fed</text>
<text x="373.2" y="403" font-size="6.6" text-anchor="end" transform="rotate(-45 373.2 403)" fill="#2a2a2a" color="#2a2a2a">Ruxo</text>
<path d="M328 415.6H369.9" stroke="#8a8a8a" stroke-width="1.35"/>
<text transform="translate(324.47 424.4) scale(0.9612 1)" font-size="6.8" fill="#2a2a2a" color="#2a2a2a">CpG + aIL-10R</text>
<path d="M314.4 330.1H326.6" stroke="#666" stroke-width="0.95"/>
<circle cx="319.05" cy="327.7" r="0.95" fill="#111"/>
<circle cx="321.95" cy="327.7" r="0.95" fill="#111"/>
<text transform="translate(333.83 312.9) scale(0.9695 1)" font-size="8.7" fill="#2a2a2a" color="#2a2a2a">TNF</text>
<text transform="translate(283.3 364.68) rotate(-90) scale(0.8589 1)" font-size="8.6" fill="#2a2a2a" color="#2a2a2a">pg/ml</text>
<text transform="translate(265.36 296.5) scale(0.942 1)" font-size="12.6" font-weight="bold" fill="#000" color="#000">G</text>
<circle cx="441" cy="392.38" r="1.45" fill="#8082b6"/>
<circle cx="442.5" cy="392.38" r="1.45" fill="#8082b6"/>
<circle cx="444" cy="392.38" r="1.45" fill="#8082b6"/>
<circle cx="445.5" cy="392.38" r="1.45" fill="#8082b6"/>
<circle cx="447" cy="392.38" r="1.45" fill="#8082b6"/>
<circle cx="448.5" cy="392.38" r="1.45" fill="#8082b6"/>
<circle cx="450" cy="392.38" r="1.45" fill="#8082b6"/>
<path d="M440.9 392.38H450.1" stroke="#3c3c66" stroke-width="1.2"/>
<path d="M459.4 353.52V385.06M456.6 353.52H462.2M456.6 385.06H462.2" stroke="#d9506f" stroke-width="0.75" fill="none"/>
<rect x="457.95" y="344.32" width="2.9" height="2.9" fill="#c01540"/>
<rect x="457.95" y="352.07" width="2.9" height="2.9" fill="#c01540"/>
<rect x="457.95" y="365.65" width="2.9" height="2.9" fill="#c01540"/>
<rect x="457.95" y="377.41" width="2.9" height="2.9" fill="#c01540"/>
<rect x="454.45" y="369.31" width="2.9" height="2.9" fill="#c01540"/>
<rect x="461.45" y="369.31" width="2.9" height="2.9" fill="#c01540"/>
<rect x="454.45" y="384.03" width="2.9" height="2.9" fill="#c01540"/>
<rect x="461.45" y="384.03" width="2.9" height="2.9" fill="#c01540"/>
<path d="M454.8 369H464" stroke="#8c1030" stroke-width="1.2"/>
<path d="M473.3 375.62V391.39M470.5 375.62H476.1M470.5 391.39H476.1" stroke="#6f8db8" stroke-width="0.75" fill="none"/>
<circle cx="473.3" cy="367.74" r="1.35" fill="#1f446f"/>
<circle cx="473.3" cy="375.62" r="1.35" fill="#1f446f"/>
<circle cx="470.8" cy="385.48" r="1.35" fill="#1f446f"/>
<circle cx="475.8" cy="387.87" r="1.35" fill="#1f446f"/>
<circle cx="470.8" cy="390.41" r="1.35" fill="#1f446f"/>
<circle cx="475.8" cy="390.41" r="1.35" fill="#1f446f"/>
<path d="M468.7 385.48H477.9" stroke="#1a2a44" stroke-width="1.2"/>
<path d="M487.2 377.31V388.58M484.4 377.31H490M484.4 388.58H490" stroke="#f0cf60" stroke-width="0.75" fill="none"/>
<circle cx="484.7" cy="372.38" r="1.45" fill="#ecbe2a"/>
<circle cx="489.7" cy="374.85" r="1.45" fill="#ecbe2a"/>
<circle cx="487.2" cy="379.78" r="1.45" fill="#ecbe2a"/>
<circle cx="487.2" cy="383.51" r="1.45" fill="#ecbe2a"/>
<circle cx="483.8" cy="386.25" r="1.45" fill="#ecbe2a"/>
<circle cx="487.2" cy="388.79" r="1.45" fill="#ecbe2a"/>
<circle cx="490.6" cy="390.41" r="1.45" fill="#ecbe2a"/>
<path d="M482.6 383.51H491.8" stroke="#5a4818" stroke-width="1.2"/>
<path d="M501.1 380.55V388.58M498.3 380.55H503.9M498.3 388.58H503.9" stroke="#80c080" stroke-width="0.75" fill="none"/>
<circle cx="501.1" cy="378.09" r="1.3" fill="#398a39"/>
<circle cx="497.7" cy="384.7" r="1.3" fill="#398a39"/>
<circle cx="501.1" cy="387.1" r="1.3" fill="#398a39"/>
<circle cx="504.5" cy="387.1" r="1.3" fill="#398a39"/>
<path d="M496.5 384.7H505.7" stroke="#3a553a" stroke-width="1.2"/>
<path d="M437.8 319.5V392.8H508.5" stroke="#111" stroke-width="1.45" fill="none"/>
<path d="M434.8 392.8H437.8" stroke="#111" stroke-width="1.25"/>
<text x="431.5" y="395.15" font-size="6.5" text-anchor="end" fill="#2a2a2a" color="#2a2a2a">0</text>
<path d="M434.8 378.72H437.8" stroke="#111" stroke-width="1.25"/>
<text x="431.5" y="381.07" font-size="6.5" text-anchor="end" fill="#2a2a2a" color="#2a2a2a">200</text>
<path d="M434.8 364.64H437.8" stroke="#111" stroke-width="1.25"/>
<text x="431.5" y="366.99" font-size="6.5" text-anchor="end" fill="#2a2a2a" color="#2a2a2a">400</text>
<path d="M434.8 350.56H437.8" stroke="#111" stroke-width="1.25"/>
<text x="431.5" y="352.91" font-size="6.5" text-anchor="end" fill="#2a2a2a" color="#2a2a2a">600</text>
<path d="M434.8 336.48H437.8" stroke="#111" stroke-width="1.25"/>
<text x="431.5" y="338.83" font-size="6.5" text-anchor="end" fill="#2a2a2a" color="#2a2a2a">800</text>
<path d="M434.8 322.4H437.8" stroke="#111" stroke-width="1.25"/>
<text x="431.5" y="324.75" font-size="6.5" text-anchor="end" textLength="13.04" lengthAdjust="spacingAndGlyphs" fill="#2a2a2a" color="#2a2a2a">1000</text>
<path d="M445.5 392.8V395.8" stroke="#111" stroke-width="1.2"/>
<path d="M459.4 392.8V395.8" stroke="#111" stroke-width="1.2"/>
<path d="M473.3 392.8V395.8" stroke="#111" stroke-width="1.2"/>
<path d="M487.2 392.8V395.8" stroke="#111" stroke-width="1.2"/>
<path d="M501.1 392.8V395.8" stroke="#111" stroke-width="1.2"/>
<text x="448.5" y="402.8" font-size="6.6" text-anchor="end" transform="rotate(-45 448.5 402.8)" fill="#2a2a2a" color="#2a2a2a">Naive</text>
<text x="462.4" y="402.8" font-size="6.6" text-anchor="end" transform="rotate(-45 462.4 402.8)" fill="#2a2a2a" color="#2a2a2a">Veh</text>
<text x="476.3" y="402.8" font-size="6.6" text-anchor="end" transform="rotate(-45 476.3 402.8)" fill="#2a2a2a" color="#2a2a2a">Ita</text>
<text x="490.2" y="402.8" font-size="6.6" text-anchor="end" transform="rotate(-45 490.2 402.8)" fill="#2a2a2a" color="#2a2a2a">Fed</text>
<text x="504.1" y="402.8" font-size="6.6" text-anchor="end" transform="rotate(-45 504.1 402.8)" fill="#2a2a2a" color="#2a2a2a">Ruxo</text>
<path d="M459.4 415.5H501.25" stroke="#8a8a8a" stroke-width="1.35"/>
<text transform="translate(455.97 424.2) scale(0.9590 1)" font-size="6.8" fill="#2a2a2a" color="#2a2a2a">CpG + aIL-10R</text>
<path d="M445.5 340.2H457.8" stroke="#666" stroke-width="0.95"/>
<circle cx="447.3" cy="337.8" r="0.95" fill="#111"/>
<circle cx="450.2" cy="337.8" r="0.95" fill="#111"/>
<circle cx="453.1" cy="337.8" r="0.95" fill="#111"/>
<circle cx="456" cy="337.8" r="0.95" fill="#111"/>
<path d="M460.2 340.2H472.2" stroke="#666" stroke-width="0.95"/>
<circle cx="464.75" cy="337.8" r="0.95" fill="#111"/>
<circle cx="467.65" cy="337.8" r="0.95" fill="#111"/>
<path d="M460.2 332.9H486.4" stroke="#666" stroke-width="0.95"/>
<circle cx="473.3" cy="330.5" r="0.95" fill="#111"/>
<path d="M460.2 325.5H502.7" stroke="#666" stroke-width="0.95"/>
<circle cx="481.45" cy="323.1" r="0.95" fill="#111"/>
<text transform="translate(453.53 313.3) scale(0.9896 1)" font-size="8.7" fill="#2a2a2a" color="#2a2a2a">IL-12(p70)</text>
<text transform="translate(411.6 364.98) rotate(-90) scale(0.8589 1)" font-size="8.6" fill="#2a2a2a" color="#2a2a2a">pg/ml</text>
<text transform="translate(390.51 296.4) scale(1.001 1)" font-size="12.6" font-weight="bold" fill="#000" color="#000">H</text>
<circle cx="52.3" cy="545.92" r="1.45" fill="#8082b6"/>
<circle cx="53.8" cy="545.92" r="1.45" fill="#8082b6"/>
<circle cx="55.3" cy="545.92" r="1.45" fill="#8082b6"/>
<circle cx="56.8" cy="545.92" r="1.45" fill="#8082b6"/>
<circle cx="58.3" cy="545.92" r="1.45" fill="#8082b6"/>
<circle cx="59.8" cy="545.92" r="1.45" fill="#8082b6"/>
<circle cx="61.3" cy="545.92" r="1.45" fill="#8082b6"/>
<path d="M52.2 545.92H61.4" stroke="#3c3c66" stroke-width="1.2"/>
<path d="M71.4 526V542.8M68.6 526H74.2M68.6 542.8H74.2" stroke="#d9506f" stroke-width="0.75" fill="none"/>
<rect x="69.95" y="519.91" width="2.9" height="2.9" fill="#c01540"/>
<rect x="69.95" y="522.02" width="2.9" height="2.9" fill="#c01540"/>
<rect x="69.95" y="524.81" width="2.9" height="2.9" fill="#c01540"/>
<rect x="66.45" y="533.03" width="2.9" height="2.9" fill="#c01540"/>
<rect x="69.95" y="533.03" width="2.9" height="2.9" fill="#c01540"/>
<rect x="73.45" y="533.03" width="2.9" height="2.9" fill="#c01540"/>
<rect x="66.45" y="540.04" width="2.9" height="2.9" fill="#c01540"/>
<rect x="69.95" y="540.04" width="2.9" height="2.9" fill="#c01540"/>
<rect x="73.45" y="540.04" width="2.9" height="2.9" fill="#c01540"/>
<rect x="66.95" y="542.85" width="2.9" height="2.9" fill="#c01540"/>
<path d="M66.8 534.4H76" stroke="#8c1030" stroke-width="1.2"/>
<path d="M86 541.84V544.96M83.2 541.84H88.8M83.2 544.96H88.8" stroke="#6f8db8" stroke-width="0.75" fill="none"/>
<circle cx="87" cy="540.18" r="1.35" fill="#1f446f"/>
<circle cx="84" cy="541.6" r="1.35" fill="#1f446f"/>
<circle cx="88" cy="541.36" r="1.35" fill="#1f446f"/>
<circle cx="83" cy="542.8" r="1.35" fill="#1f446f"/>
<circle cx="86" cy="543.04" r="1.35" fill="#1f446f"/>
<circle cx="89" cy="542.8" r="1.35" fill="#1f446f"/>
<circle cx="84" cy="544.24" r="1.35" fill="#1f446f"/>
<circle cx="88" cy="544.36" r="1.35" fill="#1f446f"/>
<circle cx="86" cy="545.1" r="1.35" fill="#1f446f"/>
<path d="M81.4 543.5H90.6" stroke="#1a2a44" stroke-width="1.2"/>
<path d="M100.6 502.53V545.2M97.8 502.53H103.4M97.8 545.2H103.4" stroke="#f0cf60" stroke-width="0.75" fill="none"/>
<circle cx="100.6" cy="479.28" r="1.45" fill="#ecbe2a"/>
<circle cx="100.6" cy="502.53" r="1.45" fill="#ecbe2a"/>
<circle cx="98.1" cy="529.58" r="1.45" fill="#ecbe2a"/>
<circle cx="103.1" cy="529.58" r="1.45" fill="#ecbe2a"/>
<circle cx="100.6" cy="534.48" r="1.45" fill="#ecbe2a"/>
<circle cx="100.6" cy="538.59" r="1.45" fill="#ecbe2a"/>
<circle cx="98.1" cy="543.5" r="1.45" fill="#ecbe2a"/>
<circle cx="103.1" cy="543.5" r="1.45" fill="#ecbe2a"/>
<path d="M96 524.67H105.2" stroke="#5a4818" stroke-width="1.2"/>
<path d="M115.2 533.58V545.2M112.4 533.58H118M112.4 545.2H118" stroke="#80c080" stroke-width="0.75" fill="none"/>
<circle cx="115.2" cy="529.07" r="1.3" fill="#398a39"/>
<circle cx="112.7" cy="540.99" r="1.3" fill="#398a39"/>
<circle cx="117.7" cy="540.99" r="1.3" fill="#398a39"/>
<circle cx="115.2" cy="545.1" r="1.3" fill="#398a39"/>
<path d="M110.6 540.18H119.8" stroke="#3a553a" stroke-width="1.2"/>
<path d="M49.5 471.5V546.4H122.5" stroke="#111" stroke-width="1.45" fill="none"/>
<path d="M46.5 546.4H49.5" stroke="#111" stroke-width="1.25"/>
<text x="43.2" y="548.75" font-size="6.5" text-anchor="end" fill="#2a2a2a" color="#2a2a2a">0</text>
<path d="M46.5 522.4H49.5" stroke="#111" stroke-width="1.25"/>
<text x="43.2" y="524.75" font-size="6.5" text-anchor="end" fill="#2a2a2a" color="#2a2a2a">2000</text>
<path d="M46.5 498.4H49.5" stroke="#111" stroke-width="1.25"/>
<text x="43.2" y="500.75" font-size="6.5" text-anchor="end" fill="#2a2a2a" color="#2a2a2a">4000</text>
<path d="M46.5 474.4H49.5" stroke="#111" stroke-width="1.25"/>
<text x="43.2" y="476.75" font-size="6.5" text-anchor="end" fill="#2a2a2a" color="#2a2a2a">6000</text>
<path d="M56.8 546.4V549.4" stroke="#111" stroke-width="1.2"/>
<path d="M71.4 546.4V549.4" stroke="#111" stroke-width="1.2"/>
<path d="M86 546.4V549.4" stroke="#111" stroke-width="1.2"/>
<path d="M100.6 546.4V549.4" stroke="#111" stroke-width="1.2"/>
<path d="M115.2 546.4V549.4" stroke="#111" stroke-width="1.2"/>
<text x="59.8" y="556.4" font-size="6.6" text-anchor="end" transform="rotate(-45 59.8 556.4)" fill="#2a2a2a" color="#2a2a2a">Naive</text>
<text x="74.4" y="556.4" font-size="6.6" text-anchor="end" transform="rotate(-45 74.4 556.4)" fill="#2a2a2a" color="#2a2a2a">Veh</text>
<text x="89" y="556.4" font-size="6.6" text-anchor="end" transform="rotate(-45 89 556.4)" fill="#2a2a2a" color="#2a2a2a">Ita</text>
<text x="103.6" y="556.4" font-size="6.6" text-anchor="end" transform="rotate(-45 103.6 556.4)" fill="#2a2a2a" color="#2a2a2a">Fed</text>
<text x="118.2" y="556.4" font-size="6.6" text-anchor="end" transform="rotate(-45 118.2 556.4)" fill="#2a2a2a" color="#2a2a2a">Ruxo</text>
<path d="M71.9 568.3H115" stroke="#8a8a8a" stroke-width="1.35"/>
<text transform="translate(71.88 577.6) scale(0.9391 1)" font-size="6.8" fill="#2a2a2a" color="#2a2a2a">CpG + aIL-10R</text>
<path d="M88.2 477.3H100.2" stroke="#666" stroke-width="0.95"/>
<circle cx="94.2" cy="474.9" r="0.95" fill="#111"/>
<text transform="translate(78.76 466) scale(0.9398 1)" font-size="8.7" fill="#2a2a2a" color="#2a2a2a">IL-6</text>
<text transform="translate(23.3 518.09) rotate(-90) scale(0.8740 1)" font-size="8.6" fill="#2a2a2a" color="#2a2a2a">pg/ml</text>
<text transform="translate(7.21 451.6) scale(0.999 1)" font-size="12.6" font-weight="bold" fill="#000" color="#000">I</text>
<circle cx="188.5" cy="545.72" r="1.45" fill="#8082b6"/>
<circle cx="190.5" cy="545.63" r="1.45" fill="#8082b6"/>
<circle cx="192.5" cy="545.82" r="1.45" fill="#8082b6"/>
<circle cx="186" cy="546.51" r="1.45" fill="#8082b6"/>
<circle cx="187.5" cy="546.51" r="1.45" fill="#8082b6"/>
<circle cx="189" cy="546.51" r="1.45" fill="#8082b6"/>
<circle cx="190.5" cy="546.51" r="1.45" fill="#8082b6"/>
<circle cx="192" cy="546.51" r="1.45" fill="#8082b6"/>
<circle cx="193.5" cy="546.51" r="1.45" fill="#8082b6"/>
<circle cx="195" cy="546.51" r="1.45" fill="#8082b6"/>
<path d="M185.9 546.36H195.1" stroke="#3c3c66" stroke-width="1.2"/>
<path d="M205.5 504.01V545.13M202.7 504.01H208.3M202.7 545.13H208.3" stroke="#d9506f" stroke-width="0.75" fill="none"/>
<rect x="201.55" y="495.68" width="2.9" height="2.9" fill="#c01540"/>
<rect x="206.55" y="497.3" width="2.9" height="2.9" fill="#c01540"/>
<rect x="204.05" y="506.74" width="2.9" height="2.9" fill="#c01540"/>
<rect x="204.05" y="523.83" width="2.9" height="2.9" fill="#c01540"/>
<rect x="204.05" y="535.43" width="2.9" height="2.9" fill="#c01540"/>
<rect x="204.05" y="540.39" width="2.9" height="2.9" fill="#c01540"/>
<rect x="201.55" y="544.03" width="2.9" height="2.9" fill="#c01540"/>
<rect x="206.55" y="544.03" width="2.9" height="2.9" fill="#c01540"/>
<path d="M200.9 525.28H210.1" stroke="#8c1030" stroke-width="1.2"/>
<path d="M220.5 535.8V546.61M217.7 535.8H223.3M217.7 546.61H223.3" stroke="#6f8db8" stroke-width="0.75" fill="none"/>
<circle cx="218" cy="533.93" r="1.35" fill="#1f446f"/>
<circle cx="223" cy="533.93" r="1.35" fill="#1f446f"/>
<circle cx="220.5" cy="536.88" r="1.35" fill="#1f446f"/>
<circle cx="220.5" cy="542.14" r="1.35" fill="#1f446f"/>
<circle cx="218" cy="546.31" r="1.35" fill="#1f446f"/>
<circle cx="223" cy="546.31" r="1.35" fill="#1f446f"/>
<path d="M215.9 542.14H225.1" stroke="#1a2a44" stroke-width="1.2"/>
<path d="M235.5 537.27V544.15M232.7 537.27H238.3M232.7 544.15H238.3" stroke="#f0cf60" stroke-width="0.75" fill="none"/>
<circle cx="235.5" cy="535.26" r="1.45" fill="#ecbe2a"/>
<circle cx="235.5" cy="538.5" r="1.45" fill="#ecbe2a"/>
<circle cx="230.4" cy="542.14" r="1.45" fill="#ecbe2a"/>
<circle cx="233.8" cy="542.14" r="1.45" fill="#ecbe2a"/>
<circle cx="237.2" cy="543.86" r="1.45" fill="#ecbe2a"/>
<circle cx="240.6" cy="543.86" r="1.45" fill="#ecbe2a"/>
<path d="M230.9 542.14H240.1" stroke="#5a4818" stroke-width="1.2"/>
<circle cx="248.5" cy="544.4" r="1.3" fill="#398a39"/>
<circle cx="251.5" cy="544.15" r="1.3" fill="#398a39"/>
<circle cx="254" cy="544.74" r="1.3" fill="#398a39"/>
<circle cx="246.25" cy="545.87" r="1.3" fill="#398a39"/>
<circle cx="247.95" cy="545.87" r="1.3" fill="#398a39"/>
<circle cx="249.65" cy="545.87" r="1.3" fill="#398a39"/>
<circle cx="251.35" cy="545.87" r="1.3" fill="#398a39"/>
<circle cx="253.05" cy="545.87" r="1.3" fill="#398a39"/>
<circle cx="254.75" cy="545.87" r="1.3" fill="#398a39"/>
<path d="M245.9 545.63H255.1" stroke="#3a553a" stroke-width="1.2"/>
<path d="M183.2 470.5V547.1H257.5" stroke="#111" stroke-width="1.45" fill="none"/>
<path d="M180.2 547.1H183.2" stroke="#111" stroke-width="1.25"/>
<text x="176.9" y="549.45" font-size="6.5" text-anchor="end" fill="#2a2a2a" color="#2a2a2a">0</text>
<path d="M180.2 522.53H183.2" stroke="#111" stroke-width="1.25"/>
<text x="176.9" y="524.88" font-size="6.5" text-anchor="end" fill="#2a2a2a" color="#2a2a2a">500</text>
<path d="M180.2 497.97H183.2" stroke="#111" stroke-width="1.25"/>
<text x="176.9" y="500.32" font-size="6.5" text-anchor="end" textLength="13.04" lengthAdjust="spacingAndGlyphs" fill="#2a2a2a" color="#2a2a2a">1000</text>
<path d="M180.2 473.4H183.2" stroke="#111" stroke-width="1.25"/>
<text x="176.9" y="475.75" font-size="6.5" text-anchor="end" textLength="13.04" lengthAdjust="spacingAndGlyphs" fill="#2a2a2a" color="#2a2a2a">1500</text>
<path d="M190.5 547.1V550.1" stroke="#111" stroke-width="1.2"/>
<path d="M205.5 547.1V550.1" stroke="#111" stroke-width="1.2"/>
<path d="M220.5 547.1V550.1" stroke="#111" stroke-width="1.2"/>
<path d="M235.5 547.1V550.1" stroke="#111" stroke-width="1.2"/>
<path d="M250.5 547.1V550.1" stroke="#111" stroke-width="1.2"/>
<text x="193.5" y="557.1" font-size="6.6" text-anchor="end" transform="rotate(-45 193.5 557.1)" fill="#2a2a2a" color="#2a2a2a">Naive</text>
<text x="208.5" y="557.1" font-size="6.6" text-anchor="end" transform="rotate(-45 208.5 557.1)" fill="#2a2a2a" color="#2a2a2a">Veh</text>
<text x="223.5" y="557.1" font-size="6.6" text-anchor="end" transform="rotate(-45 223.5 557.1)" fill="#2a2a2a" color="#2a2a2a">Ita</text>
<text x="238.5" y="557.1" font-size="6.6" text-anchor="end" transform="rotate(-45 238.5 557.1)" fill="#2a2a2a" color="#2a2a2a">Fed</text>
<text x="253.5" y="557.1" font-size="6.6" text-anchor="end" transform="rotate(-45 253.5 557.1)" fill="#2a2a2a" color="#2a2a2a">Ruxo</text>
<path d="M206 569.3H250" stroke="#8a8a8a" stroke-width="1.35"/>
<text transform="translate(205.97 578.5) scale(0.9590 1)" font-size="6.8" fill="#2a2a2a" color="#2a2a2a">CpG + aIL-10R</text>
<path d="M190.5 494.1H204.7" stroke="#666" stroke-width="0.95"/>
<circle cx="194.7" cy="491.7" r="0.95" fill="#111"/>
<circle cx="197.6" cy="491.7" r="0.95" fill="#111"/>
<circle cx="200.5" cy="491.7" r="0.95" fill="#111"/>
<path d="M206.1 488.2H220.4" stroke="#666" stroke-width="0.95"/>
<circle cx="213.25" cy="485.8" r="0.95" fill="#111"/>
<path d="M206.1 482.2H236.3" stroke="#666" stroke-width="0.95"/>
<circle cx="221.2" cy="479.8" r="0.95" fill="#111"/>
<path d="M204.9 476.1H243.6" stroke="#666" stroke-width="0.95"/>
<circle cx="224.25" cy="473.7" r="0.95" fill="#111"/>
<text transform="translate(204.08 464.6) scale(0.9541 1)" font-size="8.7" fill="#2a2a2a" color="#2a2a2a">GM-CSF</text>
<text transform="translate(157.2 518.08) rotate(-90) scale(0.8589 1)" font-size="8.6" fill="#2a2a2a" color="#2a2a2a">pg/ml</text>
<text transform="translate(136.2 451.6) scale(0.790 1)" font-size="12.6" font-weight="bold" fill="#000" color="#000">J</text>
<circle cx="311.1" cy="545.18" r="1.45" fill="#8082b6"/>
<circle cx="313.1" cy="545.05" r="1.45" fill="#8082b6"/>
<circle cx="315.1" cy="545.24" r="1.45" fill="#8082b6"/>
<circle cx="308.6" cy="545.8" r="1.45" fill="#8082b6"/>
<circle cx="310.1" cy="545.8" r="1.45" fill="#8082b6"/>
<circle cx="311.6" cy="545.8" r="1.45" fill="#8082b6"/>
<circle cx="313.1" cy="545.8" r="1.45" fill="#8082b6"/>
<circle cx="314.6" cy="545.8" r="1.45" fill="#8082b6"/>
<circle cx="316.1" cy="545.8" r="1.45" fill="#8082b6"/>
<circle cx="317.6" cy="545.8" r="1.45" fill="#8082b6"/>
<path d="M308.5 545.8H317.7" stroke="#3c3c66" stroke-width="1.2"/>
<path d="M328 526.33V541.31M325.2 526.33H330.8M325.2 541.31H330.8" stroke="#d9506f" stroke-width="0.75" fill="none"/>
<rect x="326.55" y="519.95" width="2.9" height="2.9" fill="#c01540"/>
<rect x="322.75" y="524.88" width="2.9" height="2.9" fill="#c01540"/>
<rect x="330.35" y="524.88" width="2.9" height="2.9" fill="#c01540"/>
<rect x="322.75" y="532.55" width="2.9" height="2.9" fill="#c01540"/>
<rect x="322.75" y="535.55" width="2.9" height="2.9" fill="#c01540"/>
<rect x="322.75" y="538.55" width="2.9" height="2.9" fill="#c01540"/>
<rect x="322.75" y="541.06" width="2.9" height="2.9" fill="#c01540"/>
<rect x="330.35" y="533.05" width="2.9" height="2.9" fill="#c01540"/>
<rect x="330.35" y="539.54" width="2.9" height="2.9" fill="#c01540"/>
<path d="M324.5 533.16H331.5" stroke="#8c1030" stroke-width="1.2"/>
<path d="M342.9 540.68V544.8M340.1 540.68H345.7M340.1 544.8H345.7" stroke="#6f8db8" stroke-width="0.75" fill="none"/>
<circle cx="342.9" cy="539.32" r="1.35" fill="#1f446f"/>
<circle cx="340.1" cy="541.56" r="1.35" fill="#1f446f"/>
<circle cx="345.9" cy="541.68" r="1.35" fill="#1f446f"/>
<circle cx="341.5" cy="543.18" r="1.35" fill="#1f446f"/>
<circle cx="344.3" cy="543.3" r="1.35" fill="#1f446f"/>
<circle cx="342.9" cy="545" r="1.35" fill="#1f446f"/>
<circle cx="339.9" cy="544.3" r="1.35" fill="#1f446f"/>
<circle cx="345.9" cy="544.18" r="1.35" fill="#1f446f"/>
<path d="M338.3 543.02H347.5" stroke="#1a2a44" stroke-width="1.2"/>
<path d="M357.8 503.46V541.31M355 503.46H360.6M355 541.31H360.6" stroke="#f0cf60" stroke-width="0.75" fill="none"/>
<circle cx="357.8" cy="480.65" r="1.45" fill="#ecbe2a"/>
<circle cx="355.3" cy="508.85" r="1.45" fill="#ecbe2a"/>
<circle cx="360.3" cy="508.85" r="1.45" fill="#ecbe2a"/>
<circle cx="357.8" cy="514.92" r="1.45" fill="#ecbe2a"/>
<circle cx="355.3" cy="525.78" r="1.45" fill="#ecbe2a"/>
<circle cx="360.3" cy="525.78" r="1.45" fill="#ecbe2a"/>
<circle cx="357.8" cy="531.96" r="1.45" fill="#ecbe2a"/>
<circle cx="357.8" cy="536.84" r="1.45" fill="#ecbe2a"/>
<circle cx="355.3" cy="541.72" r="1.45" fill="#ecbe2a"/>
<circle cx="360.3" cy="541.72" r="1.45" fill="#ecbe2a"/>
<path d="M353.2 522.19H362.4" stroke="#5a4818" stroke-width="1.2"/>
<circle cx="371.2" cy="542.55" r="1.3" fill="#398a39"/>
<circle cx="374.2" cy="542.43" r="1.3" fill="#398a39"/>
<circle cx="369.2" cy="543.43" r="1.3" fill="#398a39"/>
<circle cx="370.95" cy="543.43" r="1.3" fill="#398a39"/>
<circle cx="372.7" cy="543.43" r="1.3" fill="#398a39"/>
<circle cx="374.45" cy="543.43" r="1.3" fill="#398a39"/>
<circle cx="376.2" cy="543.43" r="1.3" fill="#398a39"/>
<path d="M368.1 543.18H377.3" stroke="#3a553a" stroke-width="1.2"/>
<path d="M306.2 468.5V546.3H381.5" stroke="#111" stroke-width="1.45" fill="none"/>
<path d="M303.2 546.3H306.2" stroke="#111" stroke-width="1.25"/>
<text x="299.9" y="548.65" font-size="6.5" text-anchor="end" fill="#2a2a2a" color="#2a2a2a">0</text>
<path d="M303.2 521.33H306.2" stroke="#111" stroke-width="1.25"/>
<text x="299.9" y="523.68" font-size="6.5" text-anchor="end" fill="#2a2a2a" color="#2a2a2a">2000</text>
<path d="M303.2 496.37H306.2" stroke="#111" stroke-width="1.25"/>
<text x="299.9" y="498.72" font-size="6.5" text-anchor="end" fill="#2a2a2a" color="#2a2a2a">4000</text>
<path d="M303.2 471.4H306.2" stroke="#111" stroke-width="1.25"/>
<text x="299.9" y="473.75" font-size="6.5" text-anchor="end" fill="#2a2a2a" color="#2a2a2a">6000</text>
<path d="M313.1 546.3V549.3" stroke="#111" stroke-width="1.2"/>
<path d="M328 546.3V549.3" stroke="#111" stroke-width="1.2"/>
<path d="M342.9 546.3V549.3" stroke="#111" stroke-width="1.2"/>
<path d="M357.8 546.3V549.3" stroke="#111" stroke-width="1.2"/>
<path d="M372.7 546.3V549.3" stroke="#111" stroke-width="1.2"/>
<text x="316.1" y="556.3" font-size="6.6" text-anchor="end" transform="rotate(-45 316.1 556.3)" fill="#2a2a2a" color="#2a2a2a">Naive</text>
<text x="331" y="556.3" font-size="6.6" text-anchor="end" transform="rotate(-45 331 556.3)" fill="#2a2a2a" color="#2a2a2a">Veh</text>
<text x="345.9" y="556.3" font-size="6.6" text-anchor="end" transform="rotate(-45 345.9 556.3)" fill="#2a2a2a" color="#2a2a2a">Ita</text>
<text x="360.8" y="556.3" font-size="6.6" text-anchor="end" transform="rotate(-45 360.8 556.3)" fill="#2a2a2a" color="#2a2a2a">Fed</text>
<text x="375.7" y="556.3" font-size="6.6" text-anchor="end" transform="rotate(-45 375.7 556.3)" fill="#2a2a2a" color="#2a2a2a">Ruxo</text>
<path d="M328.6 568.5H373" stroke="#8a8a8a" stroke-width="1.35"/>
<text transform="translate(328.97 577.6) scale(0.9590 1)" font-size="6.8" fill="#2a2a2a" color="#2a2a2a">CpG + aIL-10R</text>
<path d="M340.5 477.7H357.2" stroke="#666" stroke-width="0.95"/>
<circle cx="345.95" cy="475.3" r="0.95" fill="#111"/>
<circle cx="348.85" cy="475.3" r="0.95" fill="#111"/>
<circle cx="351.75" cy="475.3" r="0.95" fill="#111"/>
<path d="M358.5 475.1H375.5" stroke="#666" stroke-width="0.95"/>
<circle cx="365.55" cy="472.7" r="0.95" fill="#111"/>
<circle cx="368.45" cy="472.7" r="0.95" fill="#111"/>
<text transform="translate(329.61 462.8) scale(0.9973 1)" font-size="8.7" fill="#2a2a2a" color="#2a2a2a">MCP-1</text>
<text transform="translate(279.6 516.67) rotate(-90) scale(0.8438 1)" font-size="8.6" fill="#2a2a2a" color="#2a2a2a">pg/ml</text>
<text transform="translate(265.26 451.6) scale(0.937 1)" font-size="12.6" font-weight="bold" fill="#000" color="#000">K</text>
<path d="M445.9 540.31V545.1M443.1 540.31H448.7M443.1 545.1H448.7" stroke="#9a9ad0" stroke-width="0.75" fill="none"/>
<circle cx="445.9" cy="535.93" r="1.45" fill="#8082b6"/>
<circle cx="442.4" cy="542.41" r="1.45" fill="#8082b6"/>
<circle cx="444.7" cy="541.21" r="1.45" fill="#8082b6"/>
<circle cx="447.1" cy="541.81" r="1.45" fill="#8082b6"/>
<circle cx="449.4" cy="542.7" r="1.45" fill="#8082b6"/>
<circle cx="443.9" cy="539.71" r="1.45" fill="#8082b6"/>
<circle cx="447.9" cy="540.31" r="1.45" fill="#8082b6"/>
<circle cx="445.9" cy="543.3" r="1.45" fill="#8082b6"/>
<circle cx="441.65" cy="544.5" r="1.45" fill="#8082b6"/>
<circle cx="443.35" cy="544.5" r="1.45" fill="#8082b6"/>
<circle cx="445.05" cy="544.5" r="1.45" fill="#8082b6"/>
<circle cx="446.75" cy="544.5" r="1.45" fill="#8082b6"/>
<circle cx="448.45" cy="544.5" r="1.45" fill="#8082b6"/>
<circle cx="450.15" cy="544.5" r="1.45" fill="#8082b6"/>
<path d="M441.3 543.3H450.5" stroke="#3c3c66" stroke-width="1.2"/>
<path d="M460.8 508.01V540.31M458 508.01H463.6M458 540.31H463.6" stroke="#d9506f" stroke-width="0.75" fill="none"/>
<rect x="459.35" y="493.38" width="2.9" height="2.9" fill="#c01540"/>
<rect x="455.85" y="508.66" width="2.9" height="2.9" fill="#c01540"/>
<rect x="462.85" y="510.67" width="2.9" height="2.9" fill="#c01540"/>
<rect x="459.35" y="527.05" width="2.9" height="2.9" fill="#c01540"/>
<rect x="462.85" y="530.68" width="2.9" height="2.9" fill="#c01540"/>
<rect x="455.85" y="534" width="2.9" height="2.9" fill="#c01540"/>
<rect x="462.85" y="538.62" width="2.9" height="2.9" fill="#c01540"/>
<rect x="455.85" y="541.02" width="2.9" height="2.9" fill="#c01540"/>
<path d="M456.2 524.49H465.4" stroke="#8c1030" stroke-width="1.2"/>
<path d="M475.7 531.92V541.81M472.9 531.92H478.5M472.9 541.81H478.5" stroke="#6f8db8" stroke-width="0.75" fill="none"/>
<circle cx="475.7" cy="529.91" r="1.35" fill="#1f446f"/>
<circle cx="472.3" cy="534.35" r="1.35" fill="#1f446f"/>
<circle cx="475.7" cy="536.74" r="1.35" fill="#1f446f"/>
<circle cx="479.1" cy="538.45" r="1.35" fill="#1f446f"/>
<circle cx="475.7" cy="542.97" r="1.35" fill="#1f446f"/>
<path d="M471.1 536.74H480.3" stroke="#1a2a44" stroke-width="1.2"/>
<path d="M490.6 530.21V539.41M487.8 530.21H493.4M487.8 539.41H493.4" stroke="#f0cf60" stroke-width="0.75" fill="none"/>
<circle cx="487.2" cy="526.11" r="1.45" fill="#ecbe2a"/>
<circle cx="490.6" cy="527.69" r="1.45" fill="#ecbe2a"/>
<circle cx="494" cy="530.21" r="1.45" fill="#ecbe2a"/>
<circle cx="488.1" cy="535.15" r="1.45" fill="#ecbe2a"/>
<circle cx="493.1" cy="537.55" r="1.45" fill="#ecbe2a"/>
<circle cx="490.6" cy="539.77" r="1.45" fill="#ecbe2a"/>
<path d="M486 535.15H495.2" stroke="#5a4818" stroke-width="1.2"/>
<circle cx="502" cy="541.36" r="1.3" fill="#398a39"/>
<circle cx="503.75" cy="541.36" r="1.3" fill="#398a39"/>
<circle cx="505.5" cy="541.36" r="1.3" fill="#398a39"/>
<circle cx="507.25" cy="541.36" r="1.3" fill="#398a39"/>
<circle cx="509" cy="541.36" r="1.3" fill="#398a39"/>
<path d="M500.9 541.36H510.1" stroke="#3a553a" stroke-width="1.2"/>
<path d="M438.2 468.5V546.3H512.5" stroke="#111" stroke-width="1.45" fill="none"/>
<path d="M435.2 546.3H438.2" stroke="#111" stroke-width="1.25"/>
<text x="431.9" y="548.65" font-size="6.5" text-anchor="end" fill="#2a2a2a" color="#2a2a2a">0</text>
<path d="M435.2 531.32H438.2" stroke="#111" stroke-width="1.25"/>
<text x="431.9" y="533.67" font-size="6.5" text-anchor="end" fill="#2a2a2a" color="#2a2a2a">500</text>
<path d="M435.2 516.34H438.2" stroke="#111" stroke-width="1.25"/>
<text x="431.9" y="518.69" font-size="6.5" text-anchor="end" textLength="13.04" lengthAdjust="spacingAndGlyphs" fill="#2a2a2a" color="#2a2a2a">1000</text>
<path d="M435.2 501.36H438.2" stroke="#111" stroke-width="1.25"/>
<text x="431.9" y="503.71" font-size="6.5" text-anchor="end" textLength="13.04" lengthAdjust="spacingAndGlyphs" fill="#2a2a2a" color="#2a2a2a">1500</text>
<path d="M435.2 486.38H438.2" stroke="#111" stroke-width="1.25"/>
<text x="431.9" y="488.73" font-size="6.5" text-anchor="end" fill="#2a2a2a" color="#2a2a2a">2000</text>
<path d="M435.2 471.4H438.2" stroke="#111" stroke-width="1.25"/>
<text x="431.9" y="473.75" font-size="6.5" text-anchor="end" fill="#2a2a2a" color="#2a2a2a">2500</text>
<path d="M445.9 546.3V549.3" stroke="#111" stroke-width="1.2"/>
<path d="M460.8 546.3V549.3" stroke="#111" stroke-width="1.2"/>
<path d="M475.7 546.3V549.3" stroke="#111" stroke-width="1.2"/>
<path d="M490.6 546.3V549.3" stroke="#111" stroke-width="1.2"/>
<path d="M505.5 546.3V549.3" stroke="#111" stroke-width="1.2"/>
<text x="448.9" y="556.3" font-size="6.6" text-anchor="end" transform="rotate(-45 448.9 556.3)" fill="#2a2a2a" color="#2a2a2a">Naive</text>
<text x="463.8" y="556.3" font-size="6.6" text-anchor="end" transform="rotate(-45 463.8 556.3)" fill="#2a2a2a" color="#2a2a2a">Veh</text>
<text x="478.7" y="556.3" font-size="6.6" text-anchor="end" transform="rotate(-45 478.7 556.3)" fill="#2a2a2a" color="#2a2a2a">Ita</text>
<text x="493.6" y="556.3" font-size="6.6" text-anchor="end" transform="rotate(-45 493.6 556.3)" fill="#2a2a2a" color="#2a2a2a">Fed</text>
<text x="508.5" y="556.3" font-size="6.6" text-anchor="end" transform="rotate(-45 508.5 556.3)" fill="#2a2a2a" color="#2a2a2a">Ruxo</text>
<path d="M460.6 568.5H505" stroke="#8a8a8a" stroke-width="1.35"/>
<text transform="translate(460.57 577.6) scale(0.9679 1)" font-size="6.8" fill="#2a2a2a" color="#2a2a2a">CpG + aIL-10R</text>
<path d="M446.3 493.1H459.4" stroke="#666" stroke-width="0.95"/>
<circle cx="449.95" cy="490.7" r="0.95" fill="#111"/>
<circle cx="452.85" cy="490.7" r="0.95" fill="#111"/>
<circle cx="455.75" cy="490.7" r="0.95" fill="#111"/>
<path d="M461.1 489.2H474.1" stroke="#666" stroke-width="0.95"/>
<circle cx="467.6" cy="486.8" r="0.95" fill="#111"/>
<path d="M461.1 480.5H506" stroke="#666" stroke-width="0.95"/>
<circle cx="483.55" cy="478.1" r="0.95" fill="#111"/>
<text transform="translate(463.02 463.1) scale(0.9776 1)" font-size="8.7" fill="#2a2a2a" color="#2a2a2a">MIP1a</text>
<text transform="translate(411.6 516.98) rotate(-90) scale(0.8589 1)" font-size="8.6" fill="#2a2a2a" color="#2a2a2a">pg/ml</text>
<text transform="translate(390.67 451.6) scale(0.806 1)" font-size="12.6" font-weight="bold" fill="#000" color="#000">L</text>
</g>
<rect x="0.5" y="0.5" width="519" height="586" fill="none" stroke="#555" stroke-width="1.2"/>
</svg>
</body></html>
